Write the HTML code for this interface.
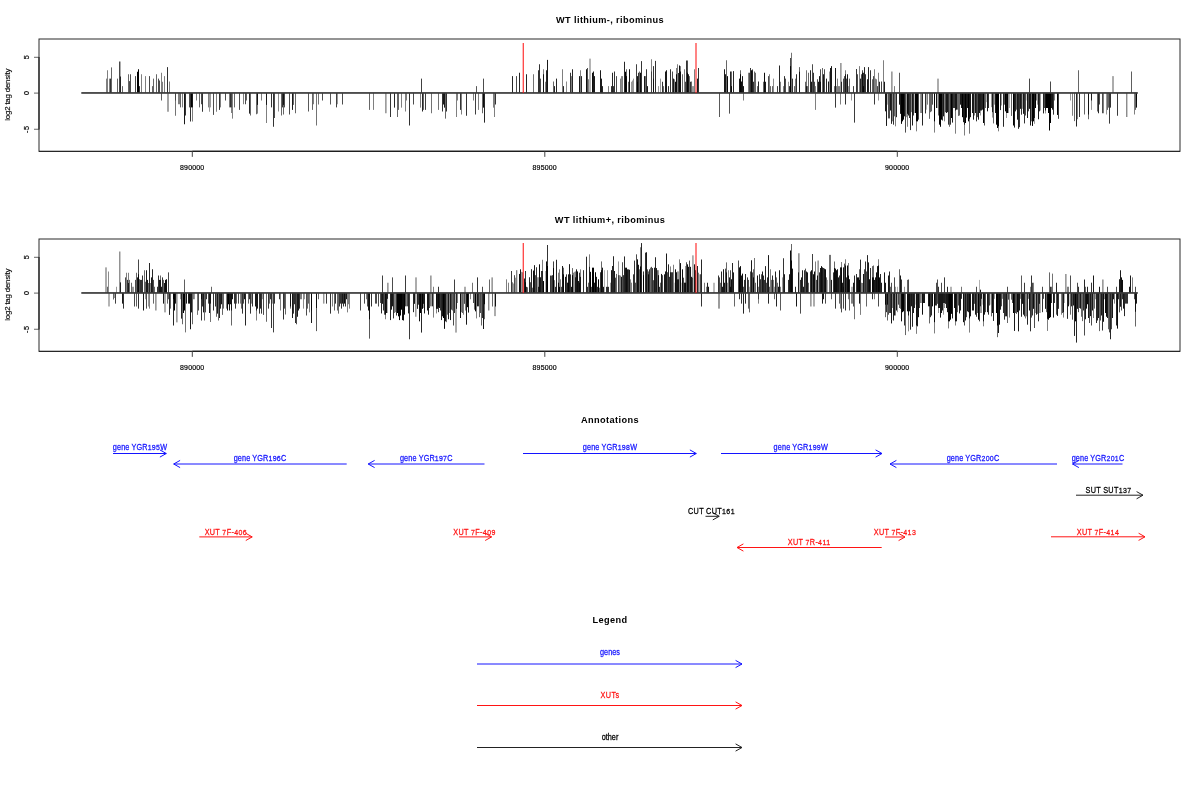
<!DOCTYPE html>
<html><head><meta charset="utf-8"><title>plot</title>
<style>html,body{margin:0;padding:0;background:#fff;}body{width:1200px;height:800px;overflow:hidden;font-family:"Liberation Sans",sans-serif;}svg{opacity:0.999;will-change:transform;}svg text{font-family:"Liberation Sans",sans-serif;}</style>
</head><body>
<svg width="1200" height="800" viewBox="0 0 1200 800" style="display:block" font-family='"Liberation Sans", sans-serif'>
<rect width="1200" height="800" fill="#fff"/>
<rect x="39" y="39" width="1141" height="112.35" fill="none" stroke="#2a2a2a" stroke-width="1"/>
<line x1="192.3" y1="151.35" x2="897.3" y2="151.35" stroke="#111" stroke-width="1.1"/>
<line x1="39" y1="151.35" x2="1180" y2="151.35" stroke="#222" stroke-width="1"/>
<line x1="39" y1="57.0" x2="39" y2="129.4" stroke="#222" stroke-width="1.2"/>
<line x1="34" y1="57.300000000000004" x2="39" y2="57.300000000000004" stroke="#333" stroke-width="0.75"/>
<text transform="translate(29.0,57.2) rotate(-90)" font-size="7.2" text-anchor="middle" fill="#000" stroke="#000" stroke-width="0.2" letter-spacing="0">5</text>
<line x1="34" y1="93.1" x2="39" y2="93.1" stroke="#333" stroke-width="0.75"/>
<text transform="translate(29.0,93.0) rotate(-90)" font-size="7.2" text-anchor="middle" fill="#000" stroke="#000" stroke-width="0.2" letter-spacing="0">0</text>
<line x1="34" y1="129.25" x2="39" y2="129.25" stroke="#333" stroke-width="0.75"/>
<text transform="translate(29.0,129.15) rotate(-90)" font-size="7.2" text-anchor="middle" fill="#000" stroke="#000" stroke-width="0.2" letter-spacing="0.7">-5</text>
<line x1="192.3" y1="151.35" x2="192.3" y2="156.85" stroke="#444" stroke-width="1"/>
<text transform="translate(192.20000000000002,169.75) scale(1,1.03)" font-size="7.0" fill="#000" stroke="#000" stroke-width="0.18" text-anchor="middle" font-weight="normal" letter-spacing="0.15">890000</text>
<line x1="544.8" y1="151.35" x2="544.8" y2="156.85" stroke="#444" stroke-width="1"/>
<text transform="translate(544.6999999999999,169.75) scale(1,1.03)" font-size="7.0" fill="#000" stroke="#000" stroke-width="0.18" text-anchor="middle" font-weight="normal" letter-spacing="0.15">895000</text>
<line x1="897.3" y1="151.35" x2="897.3" y2="156.85" stroke="#444" stroke-width="1"/>
<text transform="translate(897.1999999999999,169.75) scale(1,1.03)" font-size="7.0" fill="#000" stroke="#000" stroke-width="0.18" text-anchor="middle" font-weight="normal" letter-spacing="0.15">900000</text>
<text transform="translate(10.2,94.7) rotate(-90)" font-size="7.9" text-anchor="middle" fill="#000" stroke="#000" stroke-width="0.15" letter-spacing="-0.2">log2 tag density</text>
<text transform="translate(610,23) scale(1,1.075)" font-size="9.2" fill="#000" text-anchor="middle" font-weight="bold" letter-spacing="0.38">WT lithium-, ribominus</text>
<rect x="106.00" y="78.62" width="1.00" height="14.38" fill="#000" fill-opacity="0.50"/>
<rect x="107.00" y="70.25" width="1.00" height="22.75" fill="#000" fill-opacity="0.50"/>
<rect x="109.00" y="78.62" width="1.00" height="14.38" fill="#000" fill-opacity="0.50"/>
<rect x="110.00" y="78.62" width="1.00" height="14.38" fill="#000" fill-opacity="0.80"/>
<rect x="111.00" y="67.38" width="1.00" height="25.62" fill="#000" fill-opacity="0.60"/>
<rect x="117.00" y="78.62" width="1.00" height="14.38" fill="#000" fill-opacity="0.60"/>
<rect x="119.10" y="61.50" width="1.30" height="31.50" fill="#000" fill-opacity="0.80"/>
<rect x="120.00" y="76.50" width="1.00" height="16.50" fill="#000" fill-opacity="0.80"/>
<rect x="122.00" y="86.12" width="1.00" height="6.88" fill="#000" fill-opacity="0.60"/>
<rect x="128.00" y="74.25" width="1.00" height="18.75" fill="#000" fill-opacity="0.60"/>
<rect x="129.00" y="81.12" width="1.00" height="11.88" fill="#000" fill-opacity="0.70"/>
<rect x="130.00" y="74.25" width="1.00" height="18.75" fill="#000" fill-opacity="0.70"/>
<rect x="135.00" y="76.12" width="1.00" height="16.88" fill="#000" fill-opacity="0.70"/>
<rect x="137.00" y="71.75" width="1.00" height="21.25" fill="#000" fill-opacity="1.00"/>
<rect x="138.00" y="69.25" width="1.00" height="23.75" fill="#000" fill-opacity="1.00"/>
<rect x="139.00" y="86.12" width="1.00" height="6.88" fill="#000" fill-opacity="0.80"/>
<rect x="141.00" y="74.25" width="1.00" height="18.75" fill="#000" fill-opacity="0.50"/>
<rect x="145.00" y="76.12" width="1.00" height="16.88" fill="#000" fill-opacity="0.50"/>
<rect x="149.00" y="76.12" width="1.00" height="16.88" fill="#000" fill-opacity="0.72"/>
<rect x="152.00" y="86.12" width="1.00" height="6.88" fill="#000" fill-opacity="0.60"/>
<rect x="153.00" y="78.62" width="1.00" height="14.38" fill="#000" fill-opacity="0.60"/>
<rect x="156.00" y="74.25" width="1.00" height="18.75" fill="#000" fill-opacity="0.60"/>
<rect x="158.00" y="78.62" width="1.00" height="14.38" fill="#000" fill-opacity="0.70"/>
<rect x="159.00" y="80.50" width="1.00" height="12.50" fill="#000" fill-opacity="0.70"/>
<rect x="161.00" y="72.75" width="1.00" height="20.25" fill="#000" fill-opacity="0.50"/>
<rect x="162.00" y="81.75" width="1.00" height="11.25" fill="#000" fill-opacity="0.50"/>
<rect x="164.00" y="76.12" width="1.00" height="16.88" fill="#000" fill-opacity="0.50"/>
<rect x="167.00" y="67.12" width="1.00" height="25.88" fill="#000" fill-opacity="0.81"/>
<rect x="169.00" y="81.50" width="1.00" height="11.50" fill="#000" fill-opacity="0.50"/>
<rect x="161.00" y="93.00" width="1.00" height="7.50" fill="#000" fill-opacity="0.63"/>
<rect x="167.30" y="93.00" width="1.40" height="18.75" fill="#000" fill-opacity="0.50"/>
<rect x="175.00" y="93.00" width="1.00" height="22.75" fill="#000" fill-opacity="0.55"/>
<rect x="175.00" y="93.00" width="1.00" height="7.50" fill="#000" fill-opacity="0.40"/>
<rect x="178.00" y="93.00" width="1.00" height="11.25" fill="#000" fill-opacity="0.50"/>
<rect x="179.00" y="93.00" width="1.00" height="11.25" fill="#000" fill-opacity="0.50"/>
<rect x="180.00" y="93.00" width="1.00" height="14.38" fill="#000" fill-opacity="0.60"/>
<rect x="182.00" y="93.00" width="1.00" height="14.38" fill="#000" fill-opacity="0.50"/>
<rect x="184.00" y="93.00" width="1.00" height="31.25" fill="#000" fill-opacity="0.90"/>
<rect x="185.00" y="93.00" width="1.00" height="22.50" fill="#000" fill-opacity="0.80"/>
<rect x="189.00" y="93.00" width="1.00" height="14.38" fill="#000" fill-opacity="0.70"/>
<rect x="190.00" y="93.00" width="1.00" height="28.50" fill="#000" fill-opacity="0.80"/>
<rect x="191.00" y="93.00" width="1.00" height="14.38" fill="#000" fill-opacity="1.00"/>
<rect x="192.00" y="93.00" width="1.00" height="28.50" fill="#000" fill-opacity="0.50"/>
<rect x="192.00" y="93.00" width="1.00" height="14.38" fill="#000" fill-opacity="0.80"/>
<rect x="196.00" y="93.00" width="1.00" height="7.50" fill="#000" fill-opacity="0.50"/>
<rect x="199.00" y="93.00" width="1.00" height="14.38" fill="#000" fill-opacity="0.60"/>
<rect x="201.00" y="93.00" width="1.00" height="11.25" fill="#000" fill-opacity="0.70"/>
<rect x="202.00" y="93.00" width="1.00" height="18.75" fill="#000" fill-opacity="0.80"/>
<rect x="208.00" y="93.00" width="1.00" height="14.38" fill="#000" fill-opacity="0.50"/>
<rect x="209.00" y="93.00" width="1.00" height="18.75" fill="#000" fill-opacity="0.40"/>
<rect x="210.00" y="93.00" width="1.00" height="14.38" fill="#000" fill-opacity="0.40"/>
<rect x="213.00" y="93.00" width="1.00" height="21.88" fill="#000" fill-opacity="0.70"/>
<rect x="216.00" y="93.00" width="1.00" height="18.75" fill="#000" fill-opacity="0.50"/>
<rect x="219.00" y="93.00" width="1.00" height="16.88" fill="#000" fill-opacity="0.80"/>
<rect x="220.00" y="93.00" width="1.00" height="14.38" fill="#000" fill-opacity="0.50"/>
<rect x="225.00" y="93.00" width="1.00" height="7.50" fill="#000" fill-opacity="0.70"/>
<rect x="229.00" y="93.00" width="1.00" height="14.38" fill="#000" fill-opacity="0.50"/>
<rect x="229.95" y="93.00" width="1.60" height="14.38" fill="#000" fill-opacity="0.80"/>
<rect x="231.00" y="93.00" width="1.00" height="20.00" fill="#000" fill-opacity="0.50"/>
<rect x="232.00" y="93.00" width="1.00" height="25.62" fill="#000" fill-opacity="0.50"/>
<rect x="234.00" y="93.00" width="1.00" height="14.38" fill="#000" fill-opacity="0.60"/>
<rect x="239.00" y="93.00" width="1.00" height="16.88" fill="#000" fill-opacity="0.70"/>
<rect x="243.00" y="93.00" width="1.00" height="11.25" fill="#000" fill-opacity="0.50"/>
<rect x="245.00" y="93.00" width="1.00" height="11.25" fill="#000" fill-opacity="0.70"/>
<rect x="246.00" y="93.00" width="1.00" height="7.50" fill="#000" fill-opacity="0.60"/>
<rect x="249.00" y="93.00" width="1.00" height="20.62" fill="#000" fill-opacity="0.85"/>
<rect x="250.00" y="93.00" width="1.00" height="22.50" fill="#000" fill-opacity="0.60"/>
<rect x="256.00" y="93.00" width="1.00" height="21.25" fill="#000" fill-opacity="0.60"/>
<rect x="257.00" y="93.00" width="1.00" height="11.88" fill="#000" fill-opacity="0.85"/>
<rect x="257.00" y="93.00" width="1.00" height="20.62" fill="#000" fill-opacity="0.50"/>
<rect x="261.00" y="93.00" width="1.00" height="7.50" fill="#000" fill-opacity="0.50"/>
<rect x="266.00" y="93.00" width="1.00" height="11.88" fill="#000" fill-opacity="0.80"/>
<rect x="266.00" y="93.00" width="1.00" height="30.00" fill="#000" fill-opacity="0.50"/>
<rect x="271.00" y="93.00" width="1.00" height="14.38" fill="#000" fill-opacity="0.80"/>
<rect x="273.00" y="93.00" width="1.00" height="33.75" fill="#000" fill-opacity="0.80"/>
<rect x="274.00" y="93.00" width="1.00" height="25.00" fill="#000" fill-opacity="0.70"/>
<rect x="278.00" y="93.00" width="1.00" height="18.50" fill="#000" fill-opacity="0.45"/>
<rect x="281.00" y="93.00" width="1.00" height="22.50" fill="#000" fill-opacity="0.60"/>
<rect x="282.00" y="93.00" width="1.00" height="14.38" fill="#000" fill-opacity="0.80"/>
<rect x="283.00" y="93.00" width="1.00" height="11.88" fill="#000" fill-opacity="0.80"/>
<rect x="283.00" y="93.00" width="1.00" height="21.50" fill="#000" fill-opacity="0.60"/>
<rect x="284.00" y="93.00" width="1.00" height="14.38" fill="#000" fill-opacity="0.70"/>
<rect x="289.00" y="93.00" width="1.00" height="21.50" fill="#000" fill-opacity="0.70"/>
<rect x="292.00" y="93.00" width="1.00" height="16.88" fill="#000" fill-opacity="0.90"/>
<rect x="293.00" y="93.00" width="1.00" height="11.88" fill="#000" fill-opacity="0.60"/>
<rect x="295.00" y="93.00" width="1.00" height="20.25" fill="#000" fill-opacity="0.60"/>
<rect x="308.00" y="93.00" width="1.00" height="18.50" fill="#000" fill-opacity="0.65"/>
<rect x="312.00" y="93.00" width="1.00" height="16.88" fill="#000" fill-opacity="0.60"/>
<rect x="313.00" y="93.00" width="1.00" height="11.25" fill="#000" fill-opacity="0.50"/>
<rect x="316.00" y="93.00" width="1.00" height="32.50" fill="#000" fill-opacity="0.55"/>
<rect x="318.00" y="93.00" width="1.00" height="11.50" fill="#000" fill-opacity="0.55"/>
<rect x="322.00" y="93.00" width="1.00" height="7.50" fill="#000" fill-opacity="0.70"/>
<rect x="330.00" y="93.00" width="1.00" height="11.50" fill="#000" fill-opacity="0.65"/>
<rect x="336.00" y="93.00" width="1.00" height="14.38" fill="#000" fill-opacity="0.75"/>
<rect x="337.00" y="93.00" width="1.00" height="11.25" fill="#000" fill-opacity="0.40"/>
<rect x="342.00" y="93.00" width="1.00" height="11.50" fill="#000" fill-opacity="0.70"/>
<rect x="369.00" y="93.00" width="1.00" height="16.88" fill="#000" fill-opacity="0.60"/>
<rect x="373.00" y="93.00" width="1.00" height="16.88" fill="#000" fill-opacity="0.50"/>
<rect x="421.00" y="78.62" width="1.00" height="14.38" fill="#000" fill-opacity="0.75"/>
<rect x="476.00" y="86.12" width="1.00" height="6.88" fill="#000" fill-opacity="0.65"/>
<rect x="483.00" y="78.62" width="1.00" height="14.38" fill="#000" fill-opacity="0.70"/>
<rect x="512.00" y="76.12" width="1.00" height="16.88" fill="#000" fill-opacity="0.85"/>
<rect x="516.00" y="76.12" width="1.00" height="16.88" fill="#000" fill-opacity="0.70"/>
<rect x="519.00" y="72.75" width="1.00" height="20.25" fill="#000" fill-opacity="0.85"/>
<rect x="526.00" y="74.25" width="1.00" height="18.75" fill="#000" fill-opacity="0.85"/>
<rect x="385.23" y="93.00" width="1.30" height="20.25" fill="#000" fill-opacity="0.50"/>
<rect x="390.00" y="93.00" width="1.00" height="24.00" fill="#000" fill-opacity="0.80"/>
<rect x="394.00" y="93.00" width="1.00" height="14.62" fill="#000" fill-opacity="0.85"/>
<rect x="397.00" y="93.00" width="1.00" height="24.00" fill="#000" fill-opacity="0.60"/>
<rect x="398.00" y="93.00" width="1.00" height="16.88" fill="#000" fill-opacity="0.60"/>
<rect x="401.00" y="93.00" width="1.00" height="14.62" fill="#000" fill-opacity="0.50"/>
<rect x="405.00" y="93.00" width="1.00" height="18.50" fill="#000" fill-opacity="0.50"/>
<rect x="406.00" y="93.00" width="1.00" height="7.50" fill="#000" fill-opacity="0.50"/>
<rect x="409.00" y="93.00" width="1.00" height="32.50" fill="#000" fill-opacity="0.81"/>
<rect x="413.00" y="93.00" width="1.00" height="11.50" fill="#000" fill-opacity="0.70"/>
<rect x="420.00" y="93.00" width="1.00" height="14.62" fill="#000" fill-opacity="0.50"/>
<rect x="422.00" y="93.00" width="1.00" height="18.50" fill="#000" fill-opacity="0.85"/>
<rect x="423.00" y="93.00" width="1.00" height="16.88" fill="#000" fill-opacity="0.60"/>
<rect x="425.00" y="93.00" width="1.00" height="16.88" fill="#000" fill-opacity="0.75"/>
<rect x="431.00" y="93.00" width="1.00" height="20.25" fill="#000" fill-opacity="0.55"/>
<rect x="438.00" y="93.00" width="1.00" height="16.88" fill="#000" fill-opacity="0.55"/>
<rect x="442.00" y="93.00" width="1.00" height="18.50" fill="#000" fill-opacity="0.80"/>
<rect x="443.00" y="93.00" width="1.00" height="11.50" fill="#000" fill-opacity="0.90"/>
<rect x="444.00" y="93.00" width="1.00" height="14.62" fill="#000" fill-opacity="0.90"/>
<rect x="445.00" y="93.00" width="1.00" height="25.62" fill="#000" fill-opacity="0.60"/>
<rect x="446.00" y="93.00" width="1.00" height="18.50" fill="#000" fill-opacity="0.80"/>
<rect x="456.00" y="93.00" width="1.00" height="24.00" fill="#000" fill-opacity="0.50"/>
<rect x="457.00" y="93.00" width="1.00" height="7.50" fill="#000" fill-opacity="0.50"/>
<rect x="460.00" y="93.00" width="1.00" height="16.88" fill="#000" fill-opacity="0.80"/>
<rect x="461.00" y="93.00" width="1.00" height="21.50" fill="#000" fill-opacity="0.50"/>
<rect x="466.00" y="93.00" width="1.00" height="22.75" fill="#000" fill-opacity="0.80"/>
<rect x="473.00" y="93.00" width="1.00" height="7.50" fill="#000" fill-opacity="0.50"/>
<rect x="475.00" y="93.00" width="1.00" height="21.50" fill="#000" fill-opacity="0.75"/>
<rect x="478.00" y="93.00" width="1.00" height="16.88" fill="#000" fill-opacity="0.50"/>
<rect x="482.00" y="93.00" width="1.00" height="20.25" fill="#000" fill-opacity="0.60"/>
<rect x="483.00" y="93.00" width="1.00" height="14.62" fill="#000" fill-opacity="0.95"/>
<rect x="484.00" y="93.00" width="1.00" height="29.62" fill="#000" fill-opacity="0.85"/>
<rect x="493.00" y="93.00" width="1.00" height="14.62" fill="#000" fill-opacity="0.50"/>
<rect x="494.00" y="93.00" width="1.00" height="24.00" fill="#000" fill-opacity="0.50"/>
<rect x="495.00" y="93.00" width="1.00" height="11.50" fill="#000" fill-opacity="0.80"/>
<rect x="533.00" y="74.25" width="1.00" height="18.75" fill="#000" fill-opacity="0.55"/>
<rect x="538.00" y="70.25" width="1.00" height="22.75" fill="#000" fill-opacity="0.80"/>
<rect x="539.00" y="64.25" width="1.00" height="28.75" fill="#000" fill-opacity="0.80"/>
<rect x="540.00" y="78.62" width="1.00" height="14.38" fill="#000" fill-opacity="0.70"/>
<rect x="543.00" y="69.25" width="1.00" height="23.75" fill="#000" fill-opacity="0.50"/>
<rect x="543.00" y="74.25" width="1.00" height="18.75" fill="#000" fill-opacity="0.85"/>
<rect x="545.00" y="81.75" width="1.00" height="11.25" fill="#000" fill-opacity="0.50"/>
<rect x="546.00" y="70.25" width="1.00" height="22.75" fill="#000" fill-opacity="0.85"/>
<rect x="547.00" y="59.88" width="1.00" height="33.12" fill="#000" fill-opacity="0.90"/>
<rect x="553.00" y="81.50" width="1.00" height="11.50" fill="#000" fill-opacity="0.60"/>
<rect x="554.00" y="86.12" width="1.00" height="6.88" fill="#000" fill-opacity="0.85"/>
<rect x="556.00" y="78.62" width="1.00" height="14.38" fill="#000" fill-opacity="0.85"/>
<rect x="562.00" y="69.25" width="1.00" height="23.75" fill="#000" fill-opacity="0.50"/>
<rect x="563.00" y="86.12" width="1.00" height="6.88" fill="#000" fill-opacity="0.85"/>
<rect x="566.00" y="81.50" width="1.00" height="11.50" fill="#000" fill-opacity="0.45"/>
<rect x="570.00" y="72.75" width="1.00" height="20.25" fill="#000" fill-opacity="0.80"/>
<rect x="571.00" y="76.12" width="1.00" height="16.88" fill="#000" fill-opacity="0.50"/>
<rect x="572.00" y="69.25" width="1.00" height="23.75" fill="#000" fill-opacity="0.85"/>
<rect x="579.00" y="76.12" width="1.00" height="16.88" fill="#000" fill-opacity="0.90"/>
<rect x="580.00" y="70.25" width="1.00" height="22.75" fill="#000" fill-opacity="0.50"/>
<rect x="581.00" y="76.12" width="1.00" height="16.88" fill="#000" fill-opacity="0.85"/>
<rect x="586.00" y="69.25" width="1.00" height="23.75" fill="#000" fill-opacity="0.95"/>
<rect x="587.00" y="68.00" width="1.00" height="25.00" fill="#000" fill-opacity="0.70"/>
<rect x="588.00" y="79.25" width="1.00" height="13.75" fill="#000" fill-opacity="0.50"/>
<rect x="589.35" y="58.62" width="1.30" height="34.38" fill="#000" fill-opacity="0.45"/>
<rect x="592.00" y="72.75" width="1.00" height="20.25" fill="#000" fill-opacity="0.95"/>
<rect x="593.00" y="71.50" width="1.00" height="21.50" fill="#000" fill-opacity="0.90"/>
<rect x="594.00" y="76.12" width="1.00" height="16.88" fill="#000" fill-opacity="0.90"/>
<rect x="600.00" y="70.25" width="1.00" height="22.75" fill="#000" fill-opacity="0.90"/>
<rect x="601.00" y="78.62" width="1.00" height="14.38" fill="#000" fill-opacity="0.90"/>
<rect x="602.00" y="86.12" width="1.00" height="6.88" fill="#000" fill-opacity="0.85"/>
<rect x="608.00" y="86.12" width="1.00" height="6.88" fill="#000" fill-opacity="0.50"/>
<rect x="611.00" y="86.12" width="1.00" height="6.88" fill="#000" fill-opacity="0.80"/>
<rect x="612.00" y="72.75" width="1.00" height="20.25" fill="#000" fill-opacity="0.85"/>
<rect x="613.00" y="86.12" width="1.00" height="6.88" fill="#000" fill-opacity="0.80"/>
<rect x="614.00" y="71.50" width="1.00" height="21.50" fill="#000" fill-opacity="0.80"/>
<rect x="616.00" y="76.12" width="1.00" height="16.88" fill="#000" fill-opacity="0.70"/>
<rect x="620.00" y="78.62" width="1.00" height="14.38" fill="#000" fill-opacity="0.50"/>
<rect x="621.00" y="76.12" width="1.00" height="16.88" fill="#000" fill-opacity="0.45"/>
<rect x="622.00" y="76.12" width="1.00" height="16.88" fill="#000" fill-opacity="0.50"/>
<rect x="624.00" y="61.75" width="1.00" height="31.25" fill="#000" fill-opacity="0.85"/>
<rect x="625.00" y="71.75" width="1.00" height="21.25" fill="#000" fill-opacity="1.00"/>
<rect x="626.00" y="69.25" width="1.00" height="23.75" fill="#000" fill-opacity="0.60"/>
<rect x="626.00" y="76.12" width="1.00" height="16.88" fill="#000" fill-opacity="0.90"/>
<rect x="628.00" y="81.75" width="1.00" height="11.25" fill="#000" fill-opacity="0.60"/>
<rect x="629.00" y="69.25" width="1.00" height="23.75" fill="#000" fill-opacity="0.95"/>
<rect x="631.00" y="81.75" width="1.00" height="11.25" fill="#000" fill-opacity="0.40"/>
<rect x="632.00" y="80.50" width="1.00" height="12.50" fill="#000" fill-opacity="0.40"/>
<rect x="633.00" y="78.62" width="1.00" height="14.38" fill="#000" fill-opacity="0.40"/>
<rect x="636.00" y="64.25" width="1.00" height="28.75" fill="#000" fill-opacity="0.75"/>
<rect x="637.00" y="76.12" width="1.00" height="16.88" fill="#000" fill-opacity="0.90"/>
<rect x="637.00" y="81.75" width="1.00" height="11.25" fill="#000" fill-opacity="0.90"/>
<rect x="638.00" y="72.75" width="1.00" height="20.25" fill="#000" fill-opacity="0.80"/>
<rect x="639.00" y="71.50" width="1.00" height="21.50" fill="#000" fill-opacity="0.60"/>
<rect x="640.00" y="72.75" width="1.00" height="20.25" fill="#000" fill-opacity="0.95"/>
<rect x="641.00" y="61.12" width="1.00" height="31.88" fill="#000" fill-opacity="0.80"/>
<rect x="644.00" y="76.12" width="1.00" height="16.88" fill="#000" fill-opacity="0.90"/>
<rect x="645.00" y="76.12" width="1.00" height="16.88" fill="#000" fill-opacity="0.60"/>
<rect x="646.00" y="69.25" width="1.00" height="23.75" fill="#000" fill-opacity="0.80"/>
<rect x="647.00" y="86.12" width="1.00" height="6.88" fill="#000" fill-opacity="0.90"/>
<rect x="651.00" y="71.50" width="1.00" height="21.50" fill="#000" fill-opacity="0.50"/>
<rect x="651.00" y="59.25" width="1.00" height="33.75" fill="#000" fill-opacity="0.50"/>
<rect x="653.00" y="66.12" width="1.00" height="26.88" fill="#000" fill-opacity="0.80"/>
<rect x="653.00" y="78.62" width="1.00" height="14.38" fill="#000" fill-opacity="0.70"/>
<rect x="655.00" y="60.88" width="1.00" height="32.12" fill="#000" fill-opacity="0.80"/>
<rect x="658.00" y="86.12" width="1.00" height="6.88" fill="#000" fill-opacity="0.40"/>
<rect x="660.00" y="78.62" width="1.00" height="14.38" fill="#000" fill-opacity="0.40"/>
<rect x="662.00" y="81.75" width="1.00" height="11.25" fill="#000" fill-opacity="0.80"/>
<rect x="663.00" y="86.12" width="1.00" height="6.88" fill="#000" fill-opacity="0.60"/>
<rect x="665.00" y="71.50" width="1.00" height="21.50" fill="#000" fill-opacity="0.90"/>
<rect x="666.00" y="70.25" width="1.00" height="22.75" fill="#000" fill-opacity="0.90"/>
<rect x="668.00" y="86.12" width="1.00" height="6.88" fill="#000" fill-opacity="0.80"/>
<rect x="670.00" y="69.25" width="1.00" height="23.75" fill="#000" fill-opacity="0.80"/>
<rect x="672.00" y="71.50" width="1.00" height="21.50" fill="#000" fill-opacity="0.70"/>
<rect x="673.00" y="78.62" width="1.00" height="14.38" fill="#000" fill-opacity="0.90"/>
<rect x="674.00" y="79.25" width="1.00" height="13.75" fill="#000" fill-opacity="0.50"/>
<rect x="675.00" y="81.75" width="1.00" height="11.25" fill="#000" fill-opacity="0.95"/>
<rect x="676.00" y="68.00" width="1.00" height="25.00" fill="#000" fill-opacity="0.50"/>
<rect x="676.00" y="74.25" width="1.00" height="18.75" fill="#000" fill-opacity="0.90"/>
<rect x="677.00" y="64.25" width="1.00" height="28.75" fill="#000" fill-opacity="0.50"/>
<rect x="678.00" y="73.00" width="1.00" height="20.00" fill="#000" fill-opacity="0.80"/>
<rect x="679.00" y="65.50" width="1.00" height="27.50" fill="#000" fill-opacity="0.95"/>
<rect x="680.00" y="66.12" width="1.00" height="26.88" fill="#000" fill-opacity="0.50"/>
<rect x="680.00" y="71.50" width="1.00" height="21.50" fill="#000" fill-opacity="0.90"/>
<rect x="682.00" y="74.25" width="1.00" height="18.75" fill="#000" fill-opacity="0.60"/>
<rect x="684.00" y="69.25" width="1.00" height="23.75" fill="#000" fill-opacity="0.50"/>
<rect x="685.00" y="81.75" width="1.00" height="11.25" fill="#000" fill-opacity="0.70"/>
<rect x="686.00" y="60.50" width="1.00" height="32.50" fill="#000" fill-opacity="0.80"/>
<rect x="687.00" y="60.50" width="1.00" height="32.50" fill="#000" fill-opacity="0.70"/>
<rect x="687.00" y="72.75" width="1.00" height="20.25" fill="#000" fill-opacity="0.95"/>
<rect x="688.00" y="74.25" width="1.00" height="18.75" fill="#000" fill-opacity="0.90"/>
<rect x="689.00" y="76.12" width="1.00" height="16.88" fill="#000" fill-opacity="0.60"/>
<rect x="690.00" y="81.75" width="1.00" height="11.25" fill="#000" fill-opacity="0.80"/>
<rect x="691.00" y="81.50" width="1.00" height="11.50" fill="#000" fill-opacity="0.60"/>
<rect x="692.00" y="86.12" width="1.00" height="6.88" fill="#000" fill-opacity="0.40"/>
<rect x="693.00" y="86.12" width="1.00" height="6.88" fill="#000" fill-opacity="0.40"/>
<rect x="694.00" y="69.25" width="1.00" height="23.75" fill="#000" fill-opacity="0.50"/>
<rect x="697.00" y="78.62" width="1.00" height="14.38" fill="#000" fill-opacity="0.90"/>
<rect x="698.00" y="68.00" width="1.00" height="25.00" fill="#000" fill-opacity="0.80"/>
<rect x="724.00" y="69.25" width="1.00" height="23.75" fill="#000" fill-opacity="0.90"/>
<rect x="725.00" y="74.25" width="1.00" height="18.75" fill="#000" fill-opacity="0.90"/>
<rect x="726.00" y="60.25" width="1.00" height="32.75" fill="#000" fill-opacity="0.60"/>
<rect x="727.00" y="76.12" width="1.00" height="16.88" fill="#000" fill-opacity="0.90"/>
<rect x="727.00" y="76.75" width="1.00" height="16.25" fill="#000" fill-opacity="0.60"/>
<rect x="730.00" y="71.50" width="1.00" height="21.50" fill="#000" fill-opacity="0.85"/>
<rect x="731.00" y="71.50" width="1.00" height="21.50" fill="#000" fill-opacity="0.60"/>
<rect x="731.00" y="86.12" width="1.00" height="6.88" fill="#000" fill-opacity="0.90"/>
<rect x="733.00" y="71.12" width="1.00" height="21.88" fill="#000" fill-opacity="0.85"/>
<rect x="739.00" y="78.62" width="1.00" height="14.38" fill="#000" fill-opacity="0.90"/>
<rect x="740.00" y="70.25" width="1.00" height="22.75" fill="#000" fill-opacity="0.60"/>
<rect x="740.00" y="74.25" width="1.00" height="18.75" fill="#000" fill-opacity="0.95"/>
<rect x="741.00" y="81.50" width="1.00" height="11.50" fill="#000" fill-opacity="0.95"/>
<rect x="742.00" y="76.12" width="1.00" height="16.88" fill="#000" fill-opacity="0.90"/>
<rect x="743.00" y="86.12" width="1.00" height="6.88" fill="#000" fill-opacity="0.90"/>
<rect x="748.00" y="72.75" width="1.00" height="20.25" fill="#000" fill-opacity="0.50"/>
<rect x="749.00" y="72.75" width="1.00" height="20.25" fill="#000" fill-opacity="0.70"/>
<rect x="750.00" y="68.00" width="1.00" height="25.00" fill="#000" fill-opacity="0.80"/>
<rect x="751.00" y="70.25" width="1.00" height="22.75" fill="#000" fill-opacity="0.95"/>
<rect x="752.00" y="70.25" width="1.00" height="22.75" fill="#000" fill-opacity="0.70"/>
<rect x="752.00" y="69.25" width="1.00" height="23.75" fill="#000" fill-opacity="0.60"/>
<rect x="753.00" y="81.75" width="1.00" height="11.25" fill="#000" fill-opacity="0.80"/>
<rect x="754.00" y="71.50" width="1.00" height="21.50" fill="#000" fill-opacity="0.60"/>
<rect x="755.00" y="72.75" width="1.00" height="20.25" fill="#000" fill-opacity="0.60"/>
<rect x="757.00" y="86.12" width="1.00" height="6.88" fill="#000" fill-opacity="0.60"/>
<rect x="758.00" y="81.50" width="1.00" height="11.50" fill="#000" fill-opacity="0.85"/>
<rect x="763.00" y="81.75" width="1.00" height="11.25" fill="#000" fill-opacity="0.60"/>
<rect x="764.00" y="72.75" width="1.00" height="20.25" fill="#000" fill-opacity="0.95"/>
<rect x="765.00" y="81.75" width="1.00" height="11.25" fill="#000" fill-opacity="0.90"/>
<rect x="768.00" y="76.12" width="1.00" height="16.88" fill="#000" fill-opacity="0.70"/>
<rect x="769.00" y="74.25" width="1.00" height="18.75" fill="#000" fill-opacity="0.50"/>
<rect x="770.00" y="86.12" width="1.00" height="6.88" fill="#000" fill-opacity="0.60"/>
<rect x="772.00" y="86.12" width="1.00" height="6.88" fill="#000" fill-opacity="0.60"/>
<rect x="773.00" y="78.62" width="1.00" height="14.38" fill="#000" fill-opacity="0.45"/>
<rect x="777.00" y="86.12" width="1.00" height="6.88" fill="#000" fill-opacity="0.75"/>
<rect x="779.00" y="65.50" width="1.00" height="27.50" fill="#000" fill-opacity="0.85"/>
<rect x="780.00" y="81.75" width="1.00" height="11.25" fill="#000" fill-opacity="0.50"/>
<rect x="783.00" y="86.12" width="1.00" height="6.88" fill="#000" fill-opacity="0.50"/>
<rect x="784.00" y="76.12" width="1.00" height="16.88" fill="#000" fill-opacity="0.80"/>
<rect x="785.00" y="78.62" width="1.00" height="14.38" fill="#000" fill-opacity="0.70"/>
<rect x="788.00" y="81.75" width="1.00" height="11.25" fill="#000" fill-opacity="0.40"/>
<rect x="789.00" y="86.12" width="1.00" height="6.88" fill="#000" fill-opacity="0.80"/>
<rect x="790.00" y="58.00" width="1.00" height="35.00" fill="#000" fill-opacity="0.70"/>
<rect x="790.00" y="66.12" width="1.00" height="26.88" fill="#000" fill-opacity="0.95"/>
<rect x="791.00" y="52.75" width="1.00" height="40.25" fill="#000" fill-opacity="0.55"/>
<rect x="792.00" y="78.62" width="1.00" height="14.38" fill="#000" fill-opacity="0.80"/>
<rect x="794.00" y="86.12" width="1.00" height="6.88" fill="#000" fill-opacity="0.60"/>
<rect x="795.00" y="78.62" width="1.00" height="14.38" fill="#000" fill-opacity="0.50"/>
<rect x="796.00" y="74.25" width="1.00" height="18.75" fill="#000" fill-opacity="0.80"/>
<rect x="799.00" y="67.12" width="1.00" height="25.88" fill="#000" fill-opacity="0.60"/>
<rect x="799.00" y="71.75" width="1.00" height="21.25" fill="#000" fill-opacity="0.80"/>
<rect x="805.00" y="81.75" width="1.00" height="11.25" fill="#000" fill-opacity="0.60"/>
<rect x="806.00" y="70.25" width="1.00" height="22.75" fill="#000" fill-opacity="0.55"/>
<rect x="806.00" y="86.12" width="1.00" height="6.88" fill="#000" fill-opacity="0.80"/>
<rect x="807.00" y="86.12" width="1.00" height="6.88" fill="#000" fill-opacity="0.60"/>
<rect x="808.00" y="72.75" width="1.00" height="20.25" fill="#000" fill-opacity="0.60"/>
<rect x="810.00" y="70.25" width="1.00" height="22.75" fill="#000" fill-opacity="0.85"/>
<rect x="811.00" y="81.75" width="1.00" height="11.25" fill="#000" fill-opacity="0.90"/>
<rect x="812.00" y="64.25" width="1.00" height="28.75" fill="#000" fill-opacity="0.70"/>
<rect x="813.00" y="72.75" width="1.00" height="20.25" fill="#000" fill-opacity="0.80"/>
<rect x="814.00" y="81.75" width="1.00" height="11.25" fill="#000" fill-opacity="0.70"/>
<rect x="815.00" y="86.12" width="1.00" height="6.88" fill="#000" fill-opacity="0.50"/>
<rect x="817.00" y="79.25" width="1.00" height="13.75" fill="#000" fill-opacity="0.70"/>
<rect x="818.00" y="81.75" width="1.00" height="11.25" fill="#000" fill-opacity="0.90"/>
<rect x="819.00" y="76.12" width="1.00" height="16.88" fill="#000" fill-opacity="0.90"/>
<rect x="820.00" y="69.25" width="1.00" height="23.75" fill="#000" fill-opacity="0.70"/>
<rect x="820.00" y="81.75" width="1.00" height="11.25" fill="#000" fill-opacity="0.80"/>
<rect x="822.00" y="68.00" width="1.00" height="25.00" fill="#000" fill-opacity="0.60"/>
<rect x="823.00" y="74.25" width="1.00" height="18.75" fill="#000" fill-opacity="0.90"/>
<rect x="824.00" y="69.25" width="1.00" height="23.75" fill="#000" fill-opacity="0.70"/>
<rect x="826.00" y="78.62" width="1.00" height="14.38" fill="#000" fill-opacity="0.85"/>
<rect x="828.00" y="81.50" width="1.00" height="11.50" fill="#000" fill-opacity="0.90"/>
<rect x="829.00" y="71.50" width="1.00" height="21.50" fill="#000" fill-opacity="0.40"/>
<rect x="719.00" y="93.00" width="1.00" height="24.00" fill="#000" fill-opacity="0.65"/>
<rect x="729.00" y="93.00" width="1.00" height="20.62" fill="#000" fill-opacity="0.68"/>
<rect x="743.00" y="93.00" width="1.00" height="7.50" fill="#000" fill-opacity="0.50"/>
<rect x="815.00" y="93.00" width="1.00" height="16.88" fill="#000" fill-opacity="0.50"/>
<rect x="830.00" y="68.00" width="1.00" height="25.00" fill="#000" fill-opacity="0.90"/>
<rect x="831.00" y="66.12" width="1.00" height="26.88" fill="#000" fill-opacity="0.90"/>
<rect x="834.00" y="86.12" width="1.00" height="6.88" fill="#000" fill-opacity="0.60"/>
<rect x="835.00" y="68.00" width="1.00" height="25.00" fill="#000" fill-opacity="0.90"/>
<rect x="836.00" y="86.12" width="1.00" height="6.88" fill="#000" fill-opacity="0.50"/>
<rect x="837.00" y="78.62" width="1.00" height="14.38" fill="#000" fill-opacity="0.50"/>
<rect x="838.00" y="86.12" width="1.00" height="6.88" fill="#000" fill-opacity="0.50"/>
<rect x="839.00" y="86.12" width="1.00" height="6.88" fill="#000" fill-opacity="0.50"/>
<rect x="840.23" y="63.00" width="1.30" height="30.00" fill="#000" fill-opacity="0.50"/>
<rect x="841.00" y="81.75" width="1.00" height="11.25" fill="#000" fill-opacity="0.80"/>
<rect x="843.00" y="78.62" width="1.00" height="14.38" fill="#000" fill-opacity="0.70"/>
<rect x="844.00" y="76.12" width="1.00" height="16.88" fill="#000" fill-opacity="0.70"/>
<rect x="845.00" y="70.25" width="1.00" height="22.75" fill="#000" fill-opacity="0.50"/>
<rect x="845.00" y="74.25" width="1.00" height="18.75" fill="#000" fill-opacity="0.80"/>
<rect x="846.00" y="78.62" width="1.00" height="14.38" fill="#000" fill-opacity="0.70"/>
<rect x="847.00" y="74.25" width="1.00" height="18.75" fill="#000" fill-opacity="0.90"/>
<rect x="848.00" y="86.12" width="1.00" height="6.88" fill="#000" fill-opacity="0.40"/>
<rect x="849.00" y="78.62" width="1.00" height="14.38" fill="#000" fill-opacity="0.60"/>
<rect x="853.00" y="86.12" width="1.00" height="6.88" fill="#000" fill-opacity="0.75"/>
<rect x="856.00" y="69.00" width="1.00" height="24.00" fill="#000" fill-opacity="0.80"/>
<rect x="857.00" y="74.25" width="1.00" height="18.75" fill="#000" fill-opacity="0.70"/>
<rect x="859.00" y="66.12" width="1.00" height="26.88" fill="#000" fill-opacity="0.50"/>
<rect x="860.00" y="78.62" width="1.00" height="14.38" fill="#000" fill-opacity="0.85"/>
<rect x="861.00" y="74.25" width="1.00" height="18.75" fill="#000" fill-opacity="0.70"/>
<rect x="862.00" y="72.75" width="1.00" height="20.25" fill="#000" fill-opacity="0.80"/>
<rect x="862.00" y="70.25" width="1.00" height="22.75" fill="#000" fill-opacity="0.70"/>
<rect x="863.00" y="86.12" width="1.00" height="6.88" fill="#000" fill-opacity="0.90"/>
<rect x="863.00" y="72.75" width="1.00" height="20.25" fill="#000" fill-opacity="0.80"/>
<rect x="864.00" y="67.12" width="1.00" height="25.88" fill="#000" fill-opacity="0.85"/>
<rect x="865.00" y="74.25" width="1.00" height="18.75" fill="#000" fill-opacity="0.80"/>
<rect x="867.00" y="79.25" width="1.00" height="13.75" fill="#000" fill-opacity="0.90"/>
<rect x="868.00" y="67.12" width="1.00" height="25.88" fill="#000" fill-opacity="0.85"/>
<rect x="870.00" y="70.25" width="1.00" height="22.75" fill="#000" fill-opacity="0.80"/>
<rect x="872.00" y="79.25" width="1.00" height="13.75" fill="#000" fill-opacity="0.60"/>
<rect x="873.00" y="76.12" width="1.00" height="16.88" fill="#000" fill-opacity="0.70"/>
<rect x="874.00" y="69.25" width="1.00" height="23.75" fill="#000" fill-opacity="0.50"/>
<rect x="875.00" y="78.62" width="1.00" height="14.38" fill="#000" fill-opacity="0.50"/>
<rect x="876.00" y="79.25" width="1.00" height="13.75" fill="#000" fill-opacity="0.50"/>
<rect x="877.00" y="86.12" width="1.00" height="6.88" fill="#000" fill-opacity="0.70"/>
<rect x="878.00" y="72.75" width="1.00" height="20.25" fill="#000" fill-opacity="0.50"/>
<rect x="879.00" y="81.75" width="1.00" height="11.25" fill="#000" fill-opacity="0.85"/>
<rect x="881.00" y="81.50" width="1.00" height="11.50" fill="#000" fill-opacity="0.75"/>
<rect x="883.00" y="60.25" width="1.00" height="32.75" fill="#000" fill-opacity="0.50"/>
<rect x="884.00" y="81.75" width="1.00" height="11.25" fill="#000" fill-opacity="0.90"/>
<rect x="891.23" y="71.50" width="1.30" height="21.50" fill="#000" fill-opacity="0.50"/>
<rect x="894.00" y="86.12" width="1.00" height="6.88" fill="#000" fill-opacity="0.50"/>
<rect x="899.00" y="72.75" width="1.00" height="20.25" fill="#000" fill-opacity="0.65"/>
<rect x="937.35" y="78.62" width="1.30" height="14.38" fill="#000" fill-opacity="0.50"/>
<rect x="835.00" y="93.00" width="1.00" height="14.62" fill="#000" fill-opacity="0.77"/>
<rect x="840.00" y="93.00" width="1.00" height="11.50" fill="#000" fill-opacity="0.50"/>
<rect x="845.00" y="93.00" width="1.00" height="11.50" fill="#000" fill-opacity="0.80"/>
<rect x="851.00" y="93.00" width="1.00" height="7.50" fill="#000" fill-opacity="0.40"/>
<rect x="854.00" y="93.00" width="1.00" height="29.62" fill="#000" fill-opacity="0.77"/>
<rect x="874.00" y="93.00" width="1.00" height="11.50" fill="#000" fill-opacity="0.77"/>
<rect x="878.00" y="93.00" width="1.00" height="7.50" fill="#000" fill-opacity="0.40"/>
<rect x="885.00" y="93.00" width="1.00" height="18.33" fill="#000" fill-opacity="0.90"/>
<rect x="886.00" y="93.00" width="1.00" height="32.92" fill="#000" fill-opacity="0.90"/>
<rect x="887.00" y="93.00" width="1.00" height="11.67" fill="#000" fill-opacity="0.30"/>
<rect x="888.00" y="93.00" width="1.00" height="25.42" fill="#000" fill-opacity="0.70"/>
<rect x="889.00" y="93.00" width="1.00" height="25.42" fill="#000" fill-opacity="0.70"/>
<rect x="890.00" y="93.00" width="1.00" height="17.50" fill="#000" fill-opacity="0.90"/>
<rect x="891.00" y="93.00" width="1.00" height="30.83" fill="#000" fill-opacity="0.85"/>
<rect x="892.00" y="93.00" width="1.00" height="28.33" fill="#000" fill-opacity="0.50"/>
<rect x="893.00" y="93.00" width="1.00" height="31.67" fill="#000" fill-opacity="0.80"/>
<rect x="894.00" y="93.00" width="1.00" height="23.33" fill="#000" fill-opacity="0.60"/>
<rect x="895.00" y="93.00" width="1.00" height="33.33" fill="#000" fill-opacity="0.50"/>
<rect x="896.00" y="93.00" width="1.00" height="24.17" fill="#000" fill-opacity="0.85"/>
<rect x="899.00" y="93.00" width="1.00" height="11.67" fill="#000" fill-opacity="0.90"/>
<rect x="900.00" y="93.00" width="1.00" height="20.83" fill="#000" fill-opacity="0.90"/>
<rect x="901.00" y="93.00" width="1.00" height="30.83" fill="#000" fill-opacity="1.00"/>
<rect x="902.00" y="93.00" width="1.00" height="28.33" fill="#000" fill-opacity="1.00"/>
<rect x="903.00" y="93.00" width="1.00" height="26.67" fill="#000" fill-opacity="1.00"/>
<rect x="904.00" y="93.00" width="1.00" height="23.33" fill="#000" fill-opacity="0.90"/>
<rect x="905.00" y="93.00" width="1.00" height="39.58" fill="#000" fill-opacity="0.70"/>
<rect x="906.00" y="93.00" width="1.00" height="24.17" fill="#000" fill-opacity="0.40"/>
<rect x="907.00" y="93.00" width="1.00" height="20.83" fill="#000" fill-opacity="0.90"/>
<rect x="907.00" y="93.00" width="1.00" height="33.75" fill="#000" fill-opacity="0.50"/>
<rect x="908.00" y="93.00" width="1.00" height="22.50" fill="#000" fill-opacity="0.90"/>
<rect x="909.00" y="93.00" width="1.00" height="25.00" fill="#000" fill-opacity="0.80"/>
<rect x="910.00" y="93.00" width="1.00" height="37.08" fill="#000" fill-opacity="0.80"/>
<rect x="911.00" y="93.00" width="1.00" height="19.17" fill="#000" fill-opacity="0.50"/>
<rect x="912.00" y="93.00" width="1.00" height="32.50" fill="#000" fill-opacity="0.90"/>
<rect x="913.00" y="93.00" width="1.00" height="22.50" fill="#000" fill-opacity="0.80"/>
<rect x="914.00" y="93.00" width="1.00" height="20.00" fill="#000" fill-opacity="0.30"/>
<rect x="915.00" y="93.00" width="1.00" height="20.00" fill="#000" fill-opacity="1.00"/>
<rect x="916.00" y="93.00" width="1.00" height="28.33" fill="#000" fill-opacity="1.00"/>
<rect x="916.00" y="93.00" width="1.00" height="38.33" fill="#000" fill-opacity="0.50"/>
<rect x="917.00" y="93.00" width="1.00" height="28.33" fill="#000" fill-opacity="1.00"/>
<rect x="918.00" y="93.00" width="1.00" height="26.67" fill="#000" fill-opacity="0.70"/>
<rect x="920.00" y="93.00" width="1.00" height="20.00" fill="#000" fill-opacity="0.40"/>
<rect x="921.00" y="93.00" width="1.00" height="20.00" fill="#000" fill-opacity="0.50"/>
<rect x="922.00" y="93.00" width="1.00" height="32.50" fill="#000" fill-opacity="0.85"/>
<rect x="925.00" y="93.00" width="1.00" height="20.42" fill="#000" fill-opacity="0.80"/>
<rect x="926.00" y="93.00" width="1.00" height="16.67" fill="#000" fill-opacity="0.30"/>
<rect x="927.00" y="93.00" width="1.00" height="11.67" fill="#000" fill-opacity="0.50"/>
<rect x="929.00" y="93.00" width="1.00" height="25.83" fill="#000" fill-opacity="0.60"/>
<rect x="930.00" y="93.00" width="1.00" height="19.17" fill="#000" fill-opacity="0.60"/>
<rect x="931.00" y="93.00" width="1.00" height="18.33" fill="#000" fill-opacity="0.60"/>
<rect x="932.00" y="93.00" width="1.00" height="11.67" fill="#000" fill-opacity="0.70"/>
<rect x="934.00" y="93.00" width="1.00" height="28.33" fill="#000" fill-opacity="1.00"/>
<rect x="934.00" y="93.00" width="1.00" height="39.58" fill="#000" fill-opacity="0.50"/>
<rect x="936.00" y="93.00" width="1.00" height="15.00" fill="#000" fill-opacity="0.90"/>
<rect x="937.00" y="93.00" width="1.00" height="15.00" fill="#000" fill-opacity="0.30"/>
<rect x="938.00" y="93.00" width="1.00" height="22.50" fill="#000" fill-opacity="0.60"/>
<rect x="939.00" y="93.00" width="1.00" height="31.67" fill="#000" fill-opacity="1.00"/>
<rect x="940.00" y="93.00" width="1.00" height="33.75" fill="#000" fill-opacity="1.00"/>
<rect x="941.00" y="93.00" width="1.00" height="26.67" fill="#000" fill-opacity="1.00"/>
<rect x="942.00" y="93.00" width="1.00" height="27.50" fill="#000" fill-opacity="0.80"/>
<rect x="943.00" y="93.00" width="1.00" height="23.33" fill="#000" fill-opacity="0.90"/>
<rect x="944.00" y="93.00" width="1.00" height="28.33" fill="#000" fill-opacity="0.50"/>
<rect x="945.00" y="93.00" width="1.00" height="19.17" fill="#000" fill-opacity="0.70"/>
<rect x="946.00" y="93.00" width="1.00" height="20.00" fill="#000" fill-opacity="0.90"/>
<rect x="947.00" y="93.00" width="1.00" height="19.17" fill="#000" fill-opacity="0.90"/>
<rect x="948.00" y="93.00" width="1.00" height="31.67" fill="#000" fill-opacity="0.80"/>
<rect x="949.00" y="93.00" width="1.00" height="33.75" fill="#000" fill-opacity="0.60"/>
<rect x="950.00" y="93.00" width="1.00" height="31.67" fill="#000" fill-opacity="0.80"/>
<rect x="951.00" y="93.00" width="1.00" height="25.00" fill="#000" fill-opacity="1.00"/>
<rect x="952.00" y="93.00" width="1.00" height="29.58" fill="#000" fill-opacity="0.90"/>
<rect x="953.00" y="93.00" width="1.00" height="15.00" fill="#000" fill-opacity="0.80"/>
<rect x="954.00" y="93.00" width="1.00" height="15.00" fill="#000" fill-opacity="0.80"/>
<rect x="955.00" y="93.00" width="1.00" height="17.50" fill="#000" fill-opacity="0.80"/>
<rect x="955.00" y="93.00" width="1.00" height="40.67" fill="#000" fill-opacity="0.50"/>
<rect x="956.00" y="93.00" width="1.00" height="16.67" fill="#000" fill-opacity="0.90"/>
<rect x="957.00" y="93.00" width="1.00" height="16.67" fill="#000" fill-opacity="0.60"/>
<rect x="958.00" y="93.00" width="1.00" height="22.92" fill="#000" fill-opacity="0.60"/>
<rect x="959.00" y="93.00" width="1.00" height="22.50" fill="#000" fill-opacity="0.60"/>
<rect x="960.00" y="93.00" width="1.00" height="11.67" fill="#000" fill-opacity="0.90"/>
<rect x="961.00" y="93.00" width="1.00" height="15.00" fill="#000" fill-opacity="0.90"/>
<rect x="962.00" y="93.00" width="1.00" height="24.17" fill="#000" fill-opacity="1.00"/>
<rect x="963.00" y="93.00" width="1.00" height="29.17" fill="#000" fill-opacity="0.90"/>
<rect x="964.00" y="93.00" width="1.00" height="31.67" fill="#000" fill-opacity="0.80"/>
<rect x="964.00" y="93.00" width="1.00" height="42.50" fill="#000" fill-opacity="0.50"/>
<rect x="965.00" y="93.00" width="1.00" height="30.00" fill="#000" fill-opacity="1.00"/>
<rect x="966.00" y="93.00" width="1.00" height="24.58" fill="#000" fill-opacity="0.90"/>
<rect x="967.00" y="93.00" width="1.00" height="15.00" fill="#000" fill-opacity="0.90"/>
<rect x="968.00" y="93.00" width="1.00" height="28.33" fill="#000" fill-opacity="1.00"/>
<rect x="969.00" y="93.00" width="1.00" height="25.83" fill="#000" fill-opacity="0.80"/>
<rect x="969.00" y="93.00" width="1.00" height="40.67" fill="#000" fill-opacity="0.55"/>
<rect x="970.00" y="93.00" width="1.00" height="24.17" fill="#000" fill-opacity="0.90"/>
<rect x="972.00" y="93.00" width="1.00" height="20.00" fill="#000" fill-opacity="0.90"/>
<rect x="973.00" y="93.00" width="1.00" height="26.67" fill="#000" fill-opacity="0.90"/>
<rect x="974.00" y="93.00" width="1.00" height="22.50" fill="#000" fill-opacity="0.50"/>
<rect x="975.00" y="93.00" width="1.00" height="20.00" fill="#000" fill-opacity="0.90"/>
<rect x="976.00" y="93.00" width="1.00" height="28.33" fill="#000" fill-opacity="0.80"/>
<rect x="977.00" y="93.00" width="1.00" height="24.17" fill="#000" fill-opacity="0.70"/>
<rect x="978.00" y="93.00" width="1.00" height="26.67" fill="#000" fill-opacity="0.90"/>
<rect x="979.00" y="93.00" width="1.00" height="20.00" fill="#000" fill-opacity="0.90"/>
<rect x="980.00" y="93.00" width="1.00" height="17.50" fill="#000" fill-opacity="0.80"/>
<rect x="980.00" y="93.00" width="1.00" height="22.50" fill="#000" fill-opacity="0.40"/>
<rect x="981.00" y="93.00" width="1.00" height="17.50" fill="#000" fill-opacity="0.85"/>
<rect x="982.00" y="93.00" width="1.00" height="16.67" fill="#000" fill-opacity="0.85"/>
<rect x="983.00" y="93.00" width="1.00" height="30.00" fill="#000" fill-opacity="1.00"/>
<rect x="984.00" y="93.00" width="1.00" height="32.50" fill="#000" fill-opacity="0.70"/>
<rect x="985.00" y="93.00" width="1.00" height="15.00" fill="#000" fill-opacity="0.60"/>
<rect x="986.00" y="93.00" width="1.00" height="9.17" fill="#000" fill-opacity="0.30"/>
<rect x="987.00" y="93.00" width="1.00" height="18.33" fill="#000" fill-opacity="0.90"/>
<rect x="988.00" y="93.00" width="1.00" height="15.00" fill="#000" fill-opacity="0.80"/>
<rect x="991.00" y="93.00" width="1.00" height="14.17" fill="#000" fill-opacity="0.40"/>
<rect x="992.00" y="93.00" width="1.00" height="19.17" fill="#000" fill-opacity="0.80"/>
<rect x="992.00" y="93.00" width="1.00" height="24.58" fill="#000" fill-opacity="0.40"/>
<rect x="993.00" y="93.00" width="1.00" height="30.42" fill="#000" fill-opacity="0.60"/>
<rect x="994.00" y="93.00" width="1.00" height="11.67" fill="#000" fill-opacity="0.40"/>
<rect x="995.00" y="93.00" width="1.00" height="20.00" fill="#000" fill-opacity="0.90"/>
<rect x="996.00" y="93.00" width="1.00" height="31.67" fill="#000" fill-opacity="1.00"/>
<rect x="997.00" y="93.00" width="1.00" height="35.00" fill="#000" fill-opacity="1.00"/>
<rect x="998.00" y="93.00" width="1.00" height="33.33" fill="#000" fill-opacity="1.00"/>
<rect x="998.00" y="93.00" width="1.00" height="38.33" fill="#000" fill-opacity="0.50"/>
<rect x="998.00" y="93.00" width="1.00" height="22.50" fill="#000" fill-opacity="0.90"/>
<rect x="1000.00" y="93.00" width="1.00" height="17.08" fill="#000" fill-opacity="0.85"/>
<rect x="1001.00" y="93.00" width="1.00" height="12.50" fill="#000" fill-opacity="0.40"/>
<rect x="1003.00" y="93.00" width="1.00" height="33.75" fill="#000" fill-opacity="0.85"/>
<rect x="1004.00" y="93.00" width="1.00" height="11.67" fill="#000" fill-opacity="0.70"/>
<rect x="1005.00" y="93.00" width="1.00" height="18.33" fill="#000" fill-opacity="1.00"/>
<rect x="1006.00" y="93.00" width="1.00" height="20.00" fill="#000" fill-opacity="0.90"/>
<rect x="1006.00" y="93.00" width="1.00" height="25.00" fill="#000" fill-opacity="0.40"/>
<rect x="1007.00" y="93.00" width="1.00" height="20.00" fill="#000" fill-opacity="1.00"/>
<rect x="1008.00" y="93.00" width="1.00" height="20.00" fill="#000" fill-opacity="0.40"/>
<rect x="1009.00" y="93.00" width="1.00" height="15.00" fill="#000" fill-opacity="0.30"/>
<rect x="1011.00" y="93.00" width="1.00" height="22.92" fill="#000" fill-opacity="0.60"/>
<rect x="1013.00" y="93.00" width="1.00" height="32.50" fill="#000" fill-opacity="1.00"/>
<rect x="1014.00" y="93.00" width="1.00" height="34.58" fill="#000" fill-opacity="0.90"/>
<rect x="1015.00" y="93.00" width="1.00" height="18.33" fill="#000" fill-opacity="0.85"/>
<rect x="1016.00" y="93.00" width="1.00" height="16.67" fill="#000" fill-opacity="0.60"/>
<rect x="1017.00" y="93.00" width="1.00" height="26.67" fill="#000" fill-opacity="0.90"/>
<rect x="1018.00" y="93.00" width="1.00" height="35.83" fill="#000" fill-opacity="0.85"/>
<rect x="1019.00" y="93.00" width="1.00" height="34.17" fill="#000" fill-opacity="0.80"/>
<rect x="1020.00" y="93.00" width="1.00" height="15.83" fill="#000" fill-opacity="0.90"/>
<rect x="1021.00" y="93.00" width="1.00" height="21.67" fill="#000" fill-opacity="0.80"/>
<rect x="1022.00" y="93.00" width="1.00" height="15.83" fill="#000" fill-opacity="0.40"/>
<rect x="1023.00" y="93.00" width="1.00" height="20.83" fill="#000" fill-opacity="0.90"/>
<rect x="1024.00" y="93.00" width="1.00" height="30.42" fill="#000" fill-opacity="0.80"/>
<rect x="1025.00" y="93.00" width="1.00" height="22.50" fill="#000" fill-opacity="0.70"/>
<rect x="1026.00" y="93.00" width="1.00" height="7.50" fill="#000" fill-opacity="0.20"/>
<rect x="1027.00" y="93.00" width="1.00" height="25.00" fill="#000" fill-opacity="0.90"/>
<rect x="1028.00" y="93.00" width="1.00" height="18.33" fill="#000" fill-opacity="0.70"/>
<rect x="1029.00" y="93.00" width="1.00" height="15.83" fill="#000" fill-opacity="0.90"/>
<rect x="1030.00" y="93.00" width="1.00" height="32.50" fill="#000" fill-opacity="0.90"/>
<rect x="1031.00" y="93.00" width="1.00" height="28.33" fill="#000" fill-opacity="0.60"/>
<rect x="1032.00" y="93.00" width="1.00" height="32.92" fill="#000" fill-opacity="1.00"/>
<rect x="1033.00" y="93.00" width="1.00" height="28.33" fill="#000" fill-opacity="1.00"/>
<rect x="1034.00" y="93.00" width="1.00" height="25.00" fill="#000" fill-opacity="0.80"/>
<rect x="1034.00" y="93.00" width="1.00" height="30.83" fill="#000" fill-opacity="0.40"/>
<rect x="1035.00" y="93.00" width="1.00" height="15.00" fill="#000" fill-opacity="1.00"/>
<rect x="1036.00" y="93.00" width="1.00" height="7.50" fill="#000" fill-opacity="0.50"/>
<rect x="1037.00" y="93.00" width="1.00" height="11.67" fill="#000" fill-opacity="0.40"/>
<rect x="1038.00" y="93.00" width="1.00" height="26.25" fill="#000" fill-opacity="0.90"/>
<rect x="1039.00" y="93.00" width="1.00" height="18.33" fill="#000" fill-opacity="0.80"/>
<rect x="1040.00" y="93.00" width="1.00" height="17.50" fill="#000" fill-opacity="0.40"/>
<rect x="1043.00" y="93.00" width="1.00" height="20.42" fill="#000" fill-opacity="0.85"/>
<rect x="1044.00" y="93.00" width="1.00" height="15.00" fill="#000" fill-opacity="0.70"/>
<rect x="1045.00" y="93.00" width="1.00" height="17.50" fill="#000" fill-opacity="0.85"/>
<rect x="1045.00" y="93.00" width="1.00" height="20.42" fill="#000" fill-opacity="0.40"/>
<rect x="1046.00" y="93.00" width="1.00" height="15.00" fill="#000" fill-opacity="1.00"/>
<rect x="1047.00" y="93.00" width="1.00" height="15.00" fill="#000" fill-opacity="1.00"/>
<rect x="1048.00" y="93.00" width="1.00" height="20.00" fill="#000" fill-opacity="1.00"/>
<rect x="1049.00" y="93.00" width="1.00" height="37.50" fill="#000" fill-opacity="1.00"/>
<rect x="1050.00" y="93.00" width="1.00" height="30.00" fill="#000" fill-opacity="1.00"/>
<rect x="1051.00" y="93.00" width="1.00" height="15.00" fill="#000" fill-opacity="0.90"/>
<rect x="1052.00" y="93.00" width="1.00" height="16.67" fill="#000" fill-opacity="0.90"/>
<rect x="1053.00" y="93.00" width="1.00" height="21.67" fill="#000" fill-opacity="0.80"/>
<rect x="1054.00" y="93.00" width="1.00" height="7.50" fill="#000" fill-opacity="0.50"/>
<rect x="1057.00" y="93.00" width="1.00" height="21.67" fill="#000" fill-opacity="0.90"/>
<rect x="1058.00" y="93.00" width="1.00" height="25.83" fill="#000" fill-opacity="0.50"/>
<rect x="1029.00" y="78.62" width="1.00" height="14.38" fill="#000" fill-opacity="0.72"/>
<rect x="1050.00" y="81.50" width="1.00" height="11.50" fill="#000" fill-opacity="0.72"/>
<rect x="1078.00" y="70.25" width="1.00" height="22.75" fill="#000" fill-opacity="0.60"/>
<rect x="1112.35" y="76.12" width="1.30" height="16.88" fill="#000" fill-opacity="0.50"/>
<rect x="1131.00" y="71.50" width="1.00" height="21.50" fill="#000" fill-opacity="0.63"/>
<rect x="1057.00" y="93.00" width="1.00" height="21.88" fill="#000" fill-opacity="0.90"/>
<rect x="1058.00" y="93.00" width="1.00" height="25.62" fill="#000" fill-opacity="0.50"/>
<rect x="1070.00" y="93.00" width="1.00" height="7.50" fill="#000" fill-opacity="0.40"/>
<rect x="1072.00" y="93.00" width="1.00" height="22.75" fill="#000" fill-opacity="0.50"/>
<rect x="1074.00" y="93.00" width="1.00" height="28.12" fill="#000" fill-opacity="0.60"/>
<rect x="1076.00" y="93.00" width="1.00" height="33.50" fill="#000" fill-opacity="0.85"/>
<rect x="1077.00" y="93.00" width="1.00" height="26.25" fill="#000" fill-opacity="0.50"/>
<rect x="1079.00" y="93.00" width="1.00" height="24.00" fill="#000" fill-opacity="0.80"/>
<rect x="1084.00" y="93.00" width="1.00" height="21.50" fill="#000" fill-opacity="0.60"/>
<rect x="1088.00" y="93.00" width="1.00" height="26.25" fill="#000" fill-opacity="0.60"/>
<rect x="1088.00" y="93.00" width="1.00" height="21.50" fill="#000" fill-opacity="0.80"/>
<rect x="1091.00" y="93.00" width="1.00" height="16.88" fill="#000" fill-opacity="0.40"/>
<rect x="1091.00" y="93.00" width="1.00" height="7.50" fill="#000" fill-opacity="0.80"/>
<rect x="1097.00" y="93.00" width="1.00" height="18.50" fill="#000" fill-opacity="0.60"/>
<rect x="1098.00" y="93.00" width="1.00" height="20.25" fill="#000" fill-opacity="0.85"/>
<rect x="1099.00" y="93.00" width="1.00" height="11.50" fill="#000" fill-opacity="0.70"/>
<rect x="1102.00" y="93.00" width="1.00" height="20.25" fill="#000" fill-opacity="0.70"/>
<rect x="1103.00" y="93.00" width="1.00" height="20.25" fill="#000" fill-opacity="0.50"/>
<rect x="1106.00" y="93.00" width="1.00" height="21.50" fill="#000" fill-opacity="0.40"/>
<rect x="1107.00" y="93.00" width="1.00" height="16.88" fill="#000" fill-opacity="0.60"/>
<rect x="1108.00" y="93.00" width="1.00" height="14.62" fill="#000" fill-opacity="0.60"/>
<rect x="1109.00" y="93.00" width="1.00" height="30.62" fill="#000" fill-opacity="0.77"/>
<rect x="1110.00" y="93.00" width="1.00" height="14.62" fill="#000" fill-opacity="0.80"/>
<rect x="1117.00" y="93.00" width="1.00" height="22.75" fill="#000" fill-opacity="0.77"/>
<rect x="1126.10" y="93.00" width="1.30" height="24.00" fill="#000" fill-opacity="0.50"/>
<rect x="1134.00" y="93.00" width="1.00" height="21.50" fill="#000" fill-opacity="0.50"/>
<rect x="1135.00" y="93.00" width="1.00" height="16.88" fill="#000" fill-opacity="0.60"/>
<rect x="1136.00" y="93.00" width="1.00" height="14.62" fill="#000" fill-opacity="0.95"/>
<rect x="1136.00" y="93.00" width="1.00" height="7.50" fill="#000" fill-opacity="0.90"/>
<rect x="81.3" y="92.1" width="1056.5" height="1.7" fill="#3a3a3a"/>
<rect x="522.65" y="43" width="1.3" height="50" fill="#ff1414" fill-opacity="0.8"/>
<rect x="695.35" y="43" width="1.3" height="50" fill="#ff1414" fill-opacity="0.8"/>
<rect x="39" y="239" width="1141" height="112.35000000000002" fill="none" stroke="#2a2a2a" stroke-width="1"/>
<line x1="192.3" y1="351.35" x2="897.3" y2="351.35" stroke="#111" stroke-width="1.1"/>
<line x1="39" y1="351.35" x2="1180" y2="351.35" stroke="#222" stroke-width="1"/>
<line x1="39" y1="257.0" x2="39" y2="329.4" stroke="#222" stroke-width="1.2"/>
<line x1="34" y1="257.3" x2="39" y2="257.3" stroke="#333" stroke-width="0.75"/>
<text transform="translate(29.0,257.2) rotate(-90)" font-size="7.2" text-anchor="middle" fill="#000" stroke="#000" stroke-width="0.2" letter-spacing="0">5</text>
<line x1="34" y1="293.1" x2="39" y2="293.1" stroke="#333" stroke-width="0.75"/>
<text transform="translate(29.0,293.0) rotate(-90)" font-size="7.2" text-anchor="middle" fill="#000" stroke="#000" stroke-width="0.2" letter-spacing="0">0</text>
<line x1="34" y1="329.25" x2="39" y2="329.25" stroke="#333" stroke-width="0.75"/>
<text transform="translate(29.0,329.15) rotate(-90)" font-size="7.2" text-anchor="middle" fill="#000" stroke="#000" stroke-width="0.2" letter-spacing="0.7">-5</text>
<line x1="192.3" y1="351.35" x2="192.3" y2="356.85" stroke="#444" stroke-width="1"/>
<text transform="translate(192.20000000000002,369.75) scale(1,1.03)" font-size="7.0" fill="#000" stroke="#000" stroke-width="0.18" text-anchor="middle" font-weight="normal" letter-spacing="0.15">890000</text>
<line x1="544.8" y1="351.35" x2="544.8" y2="356.85" stroke="#444" stroke-width="1"/>
<text transform="translate(544.6999999999999,369.75) scale(1,1.03)" font-size="7.0" fill="#000" stroke="#000" stroke-width="0.18" text-anchor="middle" font-weight="normal" letter-spacing="0.15">895000</text>
<line x1="897.3" y1="351.35" x2="897.3" y2="356.85" stroke="#444" stroke-width="1"/>
<text transform="translate(897.1999999999999,369.75) scale(1,1.03)" font-size="7.0" fill="#000" stroke="#000" stroke-width="0.18" text-anchor="middle" font-weight="normal" letter-spacing="0.15">900000</text>
<text transform="translate(10.2,294.7) rotate(-90)" font-size="7.9" text-anchor="middle" fill="#000" stroke="#000" stroke-width="0.15" letter-spacing="-0.2">log2 tag density</text>
<text transform="translate(610,223) scale(1,1.075)" font-size="9.2" fill="#000" text-anchor="middle" font-weight="bold" letter-spacing="0.38">WT lithium+, ribominus</text>
<rect x="105.35" y="267.38" width="1.30" height="25.62" fill="#000" fill-opacity="0.50"/>
<rect x="107.00" y="286.75" width="1.00" height="6.25" fill="#000" fill-opacity="0.60"/>
<rect x="108.00" y="271.50" width="1.00" height="21.50" fill="#000" fill-opacity="0.45"/>
<rect x="116.00" y="286.75" width="1.00" height="6.25" fill="#000" fill-opacity="0.40"/>
<rect x="119.05" y="251.50" width="1.40" height="41.50" fill="#000" fill-opacity="0.45"/>
<rect x="120.00" y="282.38" width="1.00" height="10.62" fill="#000" fill-opacity="0.85"/>
<rect x="125.00" y="277.38" width="1.00" height="15.62" fill="#000" fill-opacity="0.70"/>
<rect x="126.00" y="272.75" width="1.00" height="20.25" fill="#000" fill-opacity="0.50"/>
<rect x="127.00" y="279.88" width="1.00" height="13.12" fill="#000" fill-opacity="0.80"/>
<rect x="128.00" y="272.75" width="1.00" height="20.25" fill="#000" fill-opacity="0.50"/>
<rect x="128.00" y="283.00" width="1.00" height="10.00" fill="#000" fill-opacity="0.80"/>
<rect x="129.00" y="279.88" width="1.00" height="13.12" fill="#000" fill-opacity="0.60"/>
<rect x="131.00" y="282.75" width="1.00" height="10.25" fill="#000" fill-opacity="0.60"/>
<rect x="132.00" y="286.75" width="1.00" height="6.25" fill="#000" fill-opacity="0.40"/>
<rect x="133.00" y="286.75" width="1.00" height="6.25" fill="#000" fill-opacity="0.40"/>
<rect x="135.00" y="279.88" width="1.00" height="13.12" fill="#000" fill-opacity="0.70"/>
<rect x="136.00" y="272.75" width="1.00" height="20.25" fill="#000" fill-opacity="0.60"/>
<rect x="137.00" y="277.38" width="1.00" height="15.62" fill="#000" fill-opacity="0.90"/>
<rect x="138.00" y="259.50" width="1.00" height="33.50" fill="#000" fill-opacity="0.72"/>
<rect x="138.00" y="274.25" width="1.00" height="18.75" fill="#000" fill-opacity="0.90"/>
<rect x="139.00" y="279.25" width="1.00" height="13.75" fill="#000" fill-opacity="0.70"/>
<rect x="140.00" y="279.88" width="1.00" height="13.12" fill="#000" fill-opacity="0.80"/>
<rect x="141.00" y="279.88" width="1.00" height="13.12" fill="#000" fill-opacity="0.80"/>
<rect x="142.00" y="275.50" width="1.00" height="17.50" fill="#000" fill-opacity="0.80"/>
<rect x="144.00" y="270.25" width="1.00" height="22.75" fill="#000" fill-opacity="0.60"/>
<rect x="145.00" y="281.75" width="1.00" height="11.25" fill="#000" fill-opacity="0.60"/>
<rect x="146.00" y="270.25" width="1.00" height="22.75" fill="#000" fill-opacity="0.90"/>
<rect x="147.00" y="279.88" width="1.00" height="13.12" fill="#000" fill-opacity="0.90"/>
<rect x="148.00" y="283.00" width="1.00" height="10.00" fill="#000" fill-opacity="0.60"/>
<rect x="149.00" y="263.00" width="1.00" height="30.00" fill="#000" fill-opacity="0.85"/>
<rect x="150.00" y="283.00" width="1.00" height="10.00" fill="#000" fill-opacity="0.50"/>
<rect x="151.00" y="277.38" width="1.00" height="15.62" fill="#000" fill-opacity="0.90"/>
<rect x="152.00" y="269.25" width="1.00" height="23.75" fill="#000" fill-opacity="0.85"/>
<rect x="153.00" y="279.88" width="1.00" height="13.12" fill="#000" fill-opacity="0.70"/>
<rect x="154.00" y="286.75" width="1.00" height="6.25" fill="#000" fill-opacity="0.60"/>
<rect x="157.00" y="286.75" width="1.00" height="6.25" fill="#000" fill-opacity="0.80"/>
<rect x="158.00" y="275.50" width="1.00" height="17.50" fill="#000" fill-opacity="0.80"/>
<rect x="159.00" y="279.88" width="1.00" height="13.12" fill="#000" fill-opacity="0.90"/>
<rect x="160.00" y="279.88" width="1.00" height="13.12" fill="#000" fill-opacity="0.80"/>
<rect x="160.00" y="275.50" width="1.00" height="17.50" fill="#000" fill-opacity="0.60"/>
<rect x="161.00" y="286.75" width="1.00" height="6.25" fill="#000" fill-opacity="0.90"/>
<rect x="162.00" y="277.38" width="1.00" height="15.62" fill="#000" fill-opacity="0.80"/>
<rect x="163.00" y="279.88" width="1.00" height="13.12" fill="#000" fill-opacity="0.60"/>
<rect x="164.00" y="283.00" width="1.00" height="10.00" fill="#000" fill-opacity="0.90"/>
<rect x="165.00" y="279.88" width="1.00" height="13.12" fill="#000" fill-opacity="0.95"/>
<rect x="166.00" y="279.25" width="1.00" height="13.75" fill="#000" fill-opacity="0.95"/>
<rect x="168.00" y="272.38" width="1.00" height="20.62" fill="#000" fill-opacity="0.72"/>
<rect x="184.00" y="279.50" width="1.00" height="13.50" fill="#000" fill-opacity="0.63"/>
<rect x="211.00" y="286.75" width="1.00" height="6.25" fill="#000" fill-opacity="0.60"/>
<rect x="108.35" y="293.00" width="1.30" height="13.50" fill="#000" fill-opacity="0.45"/>
<rect x="113.00" y="293.00" width="1.00" height="6.50" fill="#000" fill-opacity="0.60"/>
<rect x="114.00" y="293.00" width="1.00" height="5.00" fill="#000" fill-opacity="0.40"/>
<rect x="115.00" y="293.00" width="1.00" height="10.62" fill="#000" fill-opacity="0.75"/>
<rect x="122.00" y="293.00" width="1.00" height="10.62" fill="#000" fill-opacity="0.90"/>
<rect x="123.00" y="293.00" width="1.00" height="15.62" fill="#000" fill-opacity="0.80"/>
<rect x="134.00" y="293.00" width="1.00" height="13.50" fill="#000" fill-opacity="0.72"/>
<rect x="136.00" y="293.00" width="1.00" height="13.50" fill="#000" fill-opacity="0.63"/>
<rect x="138.00" y="293.00" width="1.00" height="15.62" fill="#000" fill-opacity="0.80"/>
<rect x="143.00" y="293.00" width="1.00" height="17.50" fill="#000" fill-opacity="0.90"/>
<rect x="145.00" y="293.00" width="1.00" height="6.25" fill="#000" fill-opacity="0.40"/>
<rect x="146.00" y="293.00" width="1.00" height="15.62" fill="#000" fill-opacity="0.70"/>
<rect x="148.00" y="293.00" width="1.00" height="13.50" fill="#000" fill-opacity="0.40"/>
<rect x="149.00" y="293.00" width="1.00" height="15.62" fill="#000" fill-opacity="0.50"/>
<rect x="153.00" y="293.00" width="1.00" height="10.62" fill="#000" fill-opacity="0.60"/>
<rect x="155.22" y="293.00" width="1.30" height="17.50" fill="#000" fill-opacity="0.50"/>
<rect x="163.00" y="293.00" width="1.00" height="10.62" fill="#000" fill-opacity="0.90"/>
<rect x="164.35" y="293.00" width="1.30" height="19.38" fill="#000" fill-opacity="0.50"/>
<rect x="167.00" y="293.00" width="1.00" height="10.62" fill="#000" fill-opacity="0.60"/>
<rect x="168.00" y="293.00" width="1.00" height="6.25" fill="#000" fill-opacity="0.60"/>
<rect x="169.00" y="293.00" width="1.00" height="21.88" fill="#000" fill-opacity="0.85"/>
<rect x="170.00" y="293.00" width="1.00" height="15.62" fill="#000" fill-opacity="0.60"/>
<rect x="173.00" y="293.00" width="1.00" height="6.25" fill="#000" fill-opacity="0.90"/>
<rect x="173.00" y="293.00" width="1.00" height="32.50" fill="#000" fill-opacity="0.85"/>
<rect x="174.00" y="293.00" width="1.00" height="17.50" fill="#000" fill-opacity="1.00"/>
<rect x="175.00" y="293.00" width="1.00" height="10.62" fill="#000" fill-opacity="0.90"/>
<rect x="176.22" y="293.00" width="1.30" height="29.38" fill="#000" fill-opacity="0.50"/>
<rect x="180.00" y="293.00" width="1.00" height="6.25" fill="#000" fill-opacity="0.40"/>
<rect x="181.00" y="293.00" width="1.00" height="25.62" fill="#000" fill-opacity="0.85"/>
<rect x="182.00" y="293.00" width="1.00" height="31.25" fill="#000" fill-opacity="0.60"/>
<rect x="183.00" y="293.00" width="1.00" height="20.00" fill="#000" fill-opacity="1.00"/>
<rect x="184.00" y="293.00" width="1.00" height="17.50" fill="#000" fill-opacity="1.00"/>
<rect x="185.00" y="293.00" width="1.00" height="39.38" fill="#000" fill-opacity="0.55"/>
<rect x="186.00" y="293.00" width="1.00" height="10.62" fill="#000" fill-opacity="0.90"/>
<rect x="188.00" y="293.00" width="1.00" height="10.62" fill="#000" fill-opacity="0.90"/>
<rect x="189.00" y="293.00" width="1.00" height="10.62" fill="#000" fill-opacity="0.95"/>
<rect x="190.00" y="293.00" width="1.00" height="36.25" fill="#000" fill-opacity="0.90"/>
<rect x="191.00" y="293.00" width="1.00" height="19.38" fill="#000" fill-opacity="0.90"/>
<rect x="192.00" y="293.00" width="1.00" height="31.25" fill="#000" fill-opacity="0.60"/>
<rect x="193.00" y="293.00" width="1.00" height="6.25" fill="#000" fill-opacity="0.50"/>
<rect x="194.00" y="293.00" width="1.00" height="6.25" fill="#000" fill-opacity="0.40"/>
<rect x="197.00" y="293.00" width="1.00" height="21.88" fill="#000" fill-opacity="0.55"/>
<rect x="198.00" y="293.00" width="1.00" height="17.50" fill="#000" fill-opacity="0.70"/>
<rect x="201.00" y="293.00" width="1.00" height="6.25" fill="#000" fill-opacity="0.80"/>
<rect x="201.00" y="293.00" width="1.00" height="27.50" fill="#000" fill-opacity="0.80"/>
<rect x="202.00" y="293.00" width="1.00" height="13.50" fill="#000" fill-opacity="0.80"/>
<rect x="203.00" y="293.00" width="1.00" height="19.38" fill="#000" fill-opacity="0.90"/>
<rect x="204.00" y="293.00" width="1.00" height="27.50" fill="#000" fill-opacity="0.60"/>
<rect x="205.00" y="293.00" width="1.00" height="19.38" fill="#000" fill-opacity="0.70"/>
<rect x="206.00" y="293.00" width="1.00" height="6.25" fill="#000" fill-opacity="0.80"/>
<rect x="208.00" y="293.00" width="1.00" height="10.62" fill="#000" fill-opacity="0.70"/>
<rect x="209.00" y="293.00" width="1.00" height="20.00" fill="#000" fill-opacity="0.90"/>
<rect x="210.00" y="293.00" width="1.00" height="29.00" fill="#000" fill-opacity="0.55"/>
<rect x="210.00" y="293.00" width="1.00" height="10.62" fill="#000" fill-opacity="0.80"/>
<rect x="213.00" y="293.00" width="1.00" height="17.50" fill="#000" fill-opacity="0.80"/>
<rect x="215.00" y="293.00" width="1.00" height="13.50" fill="#000" fill-opacity="0.80"/>
<rect x="216.00" y="293.00" width="1.00" height="23.75" fill="#000" fill-opacity="0.60"/>
<rect x="217.00" y="293.00" width="1.00" height="20.62" fill="#000" fill-opacity="0.90"/>
<rect x="218.00" y="293.00" width="1.00" height="27.50" fill="#000" fill-opacity="0.60"/>
<rect x="219.00" y="293.00" width="1.00" height="25.00" fill="#000" fill-opacity="0.85"/>
<rect x="220.00" y="293.00" width="1.00" height="15.62" fill="#000" fill-opacity="0.85"/>
<rect x="221.00" y="293.00" width="1.00" height="11.25" fill="#000" fill-opacity="0.90"/>
<rect x="222.00" y="293.00" width="1.00" height="21.88" fill="#000" fill-opacity="0.60"/>
<rect x="223.00" y="293.00" width="1.00" height="15.62" fill="#000" fill-opacity="0.60"/>
<rect x="226.00" y="293.00" width="1.00" height="15.62" fill="#000" fill-opacity="0.50"/>
<rect x="227.00" y="293.00" width="1.00" height="17.50" fill="#000" fill-opacity="0.95"/>
<rect x="228.00" y="293.00" width="1.00" height="11.25" fill="#000" fill-opacity="1.00"/>
<rect x="229.00" y="293.00" width="1.00" height="17.50" fill="#000" fill-opacity="0.90"/>
<rect x="230.00" y="293.00" width="1.00" height="11.25" fill="#000" fill-opacity="0.90"/>
<rect x="231.00" y="293.00" width="1.00" height="17.50" fill="#000" fill-opacity="0.80"/>
<rect x="231.00" y="293.00" width="1.00" height="32.50" fill="#000" fill-opacity="0.60"/>
<rect x="232.00" y="293.00" width="1.00" height="6.25" fill="#000" fill-opacity="0.90"/>
<rect x="234.00" y="293.00" width="1.00" height="10.62" fill="#000" fill-opacity="0.80"/>
<rect x="235.00" y="293.00" width="1.00" height="15.62" fill="#000" fill-opacity="0.80"/>
<rect x="236.00" y="293.00" width="1.00" height="10.62" fill="#000" fill-opacity="0.60"/>
<rect x="238.00" y="293.00" width="1.00" height="10.62" fill="#000" fill-opacity="0.72"/>
<rect x="240.00" y="293.00" width="1.00" height="10.62" fill="#000" fill-opacity="0.50"/>
<rect x="241.00" y="293.00" width="1.00" height="15.62" fill="#000" fill-opacity="0.60"/>
<rect x="242.00" y="293.00" width="1.00" height="20.62" fill="#000" fill-opacity="0.80"/>
<rect x="243.00" y="293.00" width="1.00" height="10.62" fill="#000" fill-opacity="0.70"/>
<rect x="244.00" y="293.00" width="1.00" height="6.25" fill="#000" fill-opacity="0.90"/>
<rect x="245.00" y="293.00" width="1.00" height="32.50" fill="#000" fill-opacity="0.85"/>
<rect x="248.00" y="293.00" width="1.00" height="10.62" fill="#000" fill-opacity="0.60"/>
<rect x="249.00" y="293.00" width="1.00" height="6.25" fill="#000" fill-opacity="0.80"/>
<rect x="250.00" y="293.00" width="1.00" height="20.62" fill="#000" fill-opacity="0.80"/>
<rect x="251.00" y="293.00" width="1.00" height="10.62" fill="#000" fill-opacity="0.50"/>
<rect x="252.00" y="293.00" width="1.00" height="13.50" fill="#000" fill-opacity="0.80"/>
<rect x="255.00" y="293.00" width="1.00" height="13.50" fill="#000" fill-opacity="0.90"/>
<rect x="256.00" y="293.00" width="1.00" height="17.50" fill="#000" fill-opacity="0.80"/>
<rect x="256.00" y="293.00" width="1.00" height="27.50" fill="#000" fill-opacity="0.50"/>
<rect x="257.00" y="293.00" width="1.00" height="15.62" fill="#000" fill-opacity="0.90"/>
<rect x="259.00" y="293.00" width="1.00" height="20.62" fill="#000" fill-opacity="0.80"/>
<rect x="260.00" y="293.00" width="1.00" height="15.62" fill="#000" fill-opacity="0.85"/>
<rect x="261.00" y="293.00" width="1.00" height="20.62" fill="#000" fill-opacity="0.80"/>
<rect x="262.00" y="293.00" width="1.00" height="6.25" fill="#000" fill-opacity="0.40"/>
<rect x="263.00" y="293.00" width="1.00" height="21.88" fill="#000" fill-opacity="0.70"/>
<rect x="266.00" y="293.00" width="1.00" height="28.75" fill="#000" fill-opacity="0.60"/>
<rect x="268.00" y="293.00" width="1.00" height="15.62" fill="#000" fill-opacity="0.80"/>
<rect x="269.00" y="293.00" width="1.00" height="10.62" fill="#000" fill-opacity="0.60"/>
<rect x="270.00" y="293.00" width="1.00" height="6.25" fill="#000" fill-opacity="0.80"/>
<rect x="271.00" y="293.00" width="1.00" height="35.00" fill="#000" fill-opacity="0.80"/>
<rect x="272.00" y="293.00" width="1.00" height="10.62" fill="#000" fill-opacity="0.40"/>
<rect x="273.00" y="293.00" width="1.00" height="39.38" fill="#000" fill-opacity="0.75"/>
<rect x="274.00" y="293.00" width="1.00" height="10.62" fill="#000" fill-opacity="0.80"/>
<rect x="279.00" y="293.00" width="1.00" height="6.25" fill="#000" fill-opacity="0.80"/>
<rect x="280.00" y="293.00" width="1.00" height="17.50" fill="#000" fill-opacity="0.50"/>
<rect x="283.00" y="293.00" width="1.00" height="26.50" fill="#000" fill-opacity="0.80"/>
<rect x="284.00" y="293.00" width="1.00" height="15.62" fill="#000" fill-opacity="0.70"/>
<rect x="285.00" y="293.00" width="1.00" height="21.50" fill="#000" fill-opacity="0.60"/>
<rect x="290.00" y="293.00" width="1.00" height="13.50" fill="#000" fill-opacity="0.80"/>
<rect x="290.00" y="293.00" width="1.00" height="15.62" fill="#000" fill-opacity="0.60"/>
<rect x="292.00" y="293.00" width="1.00" height="25.00" fill="#000" fill-opacity="0.90"/>
<rect x="293.00" y="293.00" width="1.00" height="20.62" fill="#000" fill-opacity="0.80"/>
<rect x="294.00" y="293.00" width="1.00" height="11.25" fill="#000" fill-opacity="0.80"/>
<rect x="295.00" y="293.00" width="1.00" height="30.00" fill="#000" fill-opacity="0.80"/>
<rect x="296.00" y="293.00" width="1.00" height="31.25" fill="#000" fill-opacity="0.70"/>
<rect x="297.00" y="293.00" width="1.00" height="23.75" fill="#000" fill-opacity="0.90"/>
<rect x="298.00" y="293.00" width="1.00" height="17.50" fill="#000" fill-opacity="0.90"/>
<rect x="299.00" y="293.00" width="1.00" height="15.62" fill="#000" fill-opacity="0.80"/>
<rect x="300.00" y="293.00" width="1.00" height="6.25" fill="#000" fill-opacity="0.50"/>
<rect x="301.00" y="293.00" width="1.00" height="6.25" fill="#000" fill-opacity="0.50"/>
<rect x="303.00" y="293.00" width="1.00" height="15.62" fill="#000" fill-opacity="0.45"/>
<rect x="304.00" y="293.00" width="1.00" height="6.25" fill="#000" fill-opacity="0.40"/>
<rect x="306.00" y="293.00" width="1.00" height="22.50" fill="#000" fill-opacity="0.70"/>
<rect x="307.00" y="293.00" width="1.00" height="15.62" fill="#000" fill-opacity="0.60"/>
<rect x="308.00" y="293.00" width="1.00" height="10.62" fill="#000" fill-opacity="0.60"/>
<rect x="309.00" y="293.00" width="1.00" height="19.38" fill="#000" fill-opacity="0.50"/>
<rect x="311.00" y="293.00" width="1.00" height="17.50" fill="#000" fill-opacity="0.80"/>
<rect x="311.00" y="293.00" width="1.00" height="30.00" fill="#000" fill-opacity="0.90"/>
<rect x="316.00" y="293.00" width="1.00" height="15.00" fill="#000" fill-opacity="0.85"/>
<rect x="316.00" y="293.00" width="1.00" height="38.12" fill="#000" fill-opacity="0.65"/>
<rect x="318.00" y="293.00" width="1.00" height="6.25" fill="#000" fill-opacity="0.60"/>
<rect x="323.10" y="293.00" width="1.30" height="10.62" fill="#000" fill-opacity="0.45"/>
<rect x="326.00" y="293.00" width="1.00" height="10.62" fill="#000" fill-opacity="0.77"/>
<rect x="330.00" y="293.00" width="1.00" height="20.62" fill="#000" fill-opacity="0.80"/>
<rect x="332.00" y="293.00" width="1.00" height="13.50" fill="#000" fill-opacity="0.50"/>
<rect x="334.00" y="293.00" width="1.00" height="17.50" fill="#000" fill-opacity="0.60"/>
<rect x="335.00" y="293.00" width="1.00" height="10.62" fill="#000" fill-opacity="0.80"/>
<rect x="337.00" y="293.00" width="1.00" height="17.50" fill="#000" fill-opacity="0.60"/>
<rect x="338.00" y="293.00" width="1.00" height="20.62" fill="#000" fill-opacity="0.60"/>
<rect x="339.00" y="293.00" width="1.00" height="13.50" fill="#000" fill-opacity="0.80"/>
<rect x="340.00" y="293.00" width="1.00" height="10.62" fill="#000" fill-opacity="0.80"/>
<rect x="341.00" y="293.00" width="1.00" height="15.62" fill="#000" fill-opacity="0.80"/>
<rect x="342.00" y="293.00" width="1.00" height="10.62" fill="#000" fill-opacity="0.90"/>
<rect x="343.00" y="293.00" width="1.00" height="13.50" fill="#000" fill-opacity="0.80"/>
<rect x="344.00" y="293.00" width="1.00" height="10.62" fill="#000" fill-opacity="0.95"/>
<rect x="345.00" y="293.00" width="1.00" height="13.50" fill="#000" fill-opacity="0.80"/>
<rect x="346.00" y="293.00" width="1.00" height="6.25" fill="#000" fill-opacity="0.90"/>
<rect x="347.00" y="293.00" width="1.00" height="19.38" fill="#000" fill-opacity="0.50"/>
<rect x="348.00" y="293.00" width="1.00" height="11.25" fill="#000" fill-opacity="0.50"/>
<rect x="349.00" y="293.00" width="1.00" height="15.62" fill="#000" fill-opacity="0.50"/>
<rect x="360.00" y="293.00" width="1.00" height="17.50" fill="#000" fill-opacity="0.70"/>
<rect x="364.00" y="293.00" width="1.00" height="10.62" fill="#000" fill-opacity="0.70"/>
<rect x="366.00" y="293.00" width="1.00" height="6.25" fill="#000" fill-opacity="0.50"/>
<rect x="367.00" y="293.00" width="1.00" height="13.50" fill="#000" fill-opacity="0.70"/>
<rect x="368.00" y="293.00" width="1.00" height="17.50" fill="#000" fill-opacity="0.90"/>
<rect x="369.00" y="293.00" width="1.00" height="26.25" fill="#000" fill-opacity="0.85"/>
<rect x="369.00" y="293.00" width="1.00" height="45.62" fill="#000" fill-opacity="0.65"/>
<rect x="371.00" y="293.00" width="1.00" height="13.50" fill="#000" fill-opacity="0.80"/>
<rect x="375.00" y="293.00" width="1.00" height="10.62" fill="#000" fill-opacity="0.70"/>
<rect x="376.00" y="293.00" width="1.00" height="10.62" fill="#000" fill-opacity="0.70"/>
<rect x="378.00" y="293.00" width="1.00" height="13.50" fill="#000" fill-opacity="0.70"/>
<rect x="382.00" y="275.50" width="1.00" height="17.50" fill="#000" fill-opacity="0.75"/>
<rect x="387.23" y="282.75" width="1.30" height="10.25" fill="#000" fill-opacity="0.50"/>
<rect x="392.00" y="277.38" width="1.00" height="15.62" fill="#000" fill-opacity="0.70"/>
<rect x="405.00" y="275.50" width="1.00" height="17.50" fill="#000" fill-opacity="0.77"/>
<rect x="415.35" y="277.38" width="1.30" height="15.62" fill="#000" fill-opacity="0.50"/>
<rect x="430.23" y="275.50" width="1.30" height="17.50" fill="#000" fill-opacity="0.50"/>
<rect x="433.00" y="286.75" width="1.00" height="6.25" fill="#000" fill-opacity="0.50"/>
<rect x="438.00" y="286.75" width="1.00" height="6.25" fill="#000" fill-opacity="0.80"/>
<rect x="454.00" y="279.50" width="1.00" height="13.50" fill="#000" fill-opacity="0.75"/>
<rect x="464.35" y="286.75" width="1.30" height="6.25" fill="#000" fill-opacity="0.50"/>
<rect x="472.00" y="282.75" width="1.00" height="10.25" fill="#000" fill-opacity="0.55"/>
<rect x="477.00" y="277.38" width="1.00" height="15.62" fill="#000" fill-opacity="0.80"/>
<rect x="482.00" y="286.75" width="1.00" height="6.25" fill="#000" fill-opacity="0.70"/>
<rect x="489.00" y="279.50" width="1.00" height="13.50" fill="#000" fill-opacity="0.60"/>
<rect x="491.48" y="277.38" width="1.30" height="15.62" fill="#000" fill-opacity="0.50"/>
<rect x="480.00" y="293.00" width="1.00" height="20.00" fill="#000" fill-opacity="0.70"/>
<rect x="481.00" y="293.00" width="1.00" height="32.50" fill="#000" fill-opacity="0.60"/>
<rect x="482.00" y="293.00" width="1.00" height="25.00" fill="#000" fill-opacity="0.80"/>
<rect x="483.00" y="293.00" width="1.00" height="36.00" fill="#000" fill-opacity="0.90"/>
<rect x="484.00" y="293.00" width="1.00" height="11.25" fill="#000" fill-opacity="0.90"/>
<rect x="484.00" y="293.00" width="1.00" height="26.25" fill="#000" fill-opacity="0.60"/>
<rect x="488.10" y="293.00" width="1.30" height="17.50" fill="#000" fill-opacity="0.50"/>
<rect x="492.00" y="293.00" width="1.00" height="13.50" fill="#000" fill-opacity="0.60"/>
<rect x="494.35" y="293.00" width="1.30" height="23.12" fill="#000" fill-opacity="0.50"/>
<rect x="495.00" y="293.00" width="1.00" height="13.50" fill="#000" fill-opacity="0.90"/>
<rect x="380.00" y="293.00" width="1.00" height="10.00" fill="#000" fill-opacity="0.70"/>
<rect x="381.00" y="293.00" width="1.00" height="20.42" fill="#000" fill-opacity="0.85"/>
<rect x="382.00" y="293.00" width="1.00" height="10.83" fill="#000" fill-opacity="0.90"/>
<rect x="383.00" y="293.00" width="1.00" height="17.50" fill="#000" fill-opacity="0.80"/>
<rect x="384.00" y="293.00" width="1.00" height="21.67" fill="#000" fill-opacity="0.70"/>
<rect x="385.00" y="293.00" width="1.00" height="21.67" fill="#000" fill-opacity="0.90"/>
<rect x="385.00" y="293.00" width="1.00" height="26.25" fill="#000" fill-opacity="0.50"/>
<rect x="386.00" y="293.00" width="1.00" height="20.00" fill="#000" fill-opacity="0.90"/>
<rect x="387.00" y="293.00" width="1.00" height="5.83" fill="#000" fill-opacity="0.80"/>
<rect x="387.00" y="293.00" width="1.00" height="20.00" fill="#000" fill-opacity="0.30"/>
<rect x="390.00" y="293.00" width="1.00" height="27.08" fill="#000" fill-opacity="0.85"/>
<rect x="391.00" y="293.00" width="1.00" height="16.67" fill="#000" fill-opacity="0.90"/>
<rect x="392.00" y="293.00" width="1.00" height="13.33" fill="#000" fill-opacity="0.90"/>
<rect x="393.00" y="293.00" width="1.00" height="25.42" fill="#000" fill-opacity="0.80"/>
<rect x="394.00" y="293.00" width="1.00" height="20.00" fill="#000" fill-opacity="0.50"/>
<rect x="395.00" y="293.00" width="1.00" height="19.17" fill="#000" fill-opacity="0.50"/>
<rect x="396.00" y="293.00" width="1.00" height="22.50" fill="#000" fill-opacity="0.80"/>
<rect x="397.00" y="293.00" width="1.00" height="20.00" fill="#000" fill-opacity="1.00"/>
<rect x="398.00" y="293.00" width="1.00" height="23.33" fill="#000" fill-opacity="1.00"/>
<rect x="399.00" y="293.00" width="1.00" height="27.08" fill="#000" fill-opacity="1.00"/>
<rect x="400.00" y="293.00" width="1.00" height="22.50" fill="#000" fill-opacity="1.00"/>
<rect x="401.00" y="293.00" width="1.00" height="16.67" fill="#000" fill-opacity="1.00"/>
<rect x="402.00" y="293.00" width="1.00" height="27.08" fill="#000" fill-opacity="0.95"/>
<rect x="403.00" y="293.00" width="1.00" height="27.50" fill="#000" fill-opacity="0.95"/>
<rect x="404.00" y="293.00" width="1.00" height="21.67" fill="#000" fill-opacity="1.00"/>
<rect x="405.00" y="293.00" width="1.00" height="13.33" fill="#000" fill-opacity="0.70"/>
<rect x="406.00" y="293.00" width="1.00" height="13.33" fill="#000" fill-opacity="0.50"/>
<rect x="407.00" y="293.00" width="1.00" height="13.33" fill="#000" fill-opacity="0.70"/>
<rect x="408.00" y="293.00" width="1.00" height="20.42" fill="#000" fill-opacity="0.85"/>
<rect x="409.00" y="293.00" width="1.00" height="46.25" fill="#000" fill-opacity="0.77"/>
<rect x="413.00" y="293.00" width="1.00" height="19.17" fill="#000" fill-opacity="0.85"/>
<rect x="414.00" y="293.00" width="1.00" height="10.83" fill="#000" fill-opacity="0.90"/>
<rect x="415.18" y="293.00" width="1.30" height="23.75" fill="#000" fill-opacity="0.45"/>
<rect x="417.00" y="293.00" width="1.00" height="15.83" fill="#000" fill-opacity="0.85"/>
<rect x="418.00" y="293.00" width="1.00" height="11.67" fill="#000" fill-opacity="0.80"/>
<rect x="419.00" y="293.00" width="1.00" height="28.33" fill="#000" fill-opacity="0.95"/>
<rect x="420.00" y="293.00" width="1.00" height="20.00" fill="#000" fill-opacity="1.00"/>
<rect x="421.00" y="293.00" width="1.00" height="39.58" fill="#000" fill-opacity="0.85"/>
<rect x="422.00" y="293.00" width="1.00" height="15.83" fill="#000" fill-opacity="1.00"/>
<rect x="423.00" y="293.00" width="1.00" height="10.83" fill="#000" fill-opacity="0.80"/>
<rect x="423.00" y="293.00" width="1.00" height="15.00" fill="#000" fill-opacity="0.40"/>
<rect x="424.00" y="293.00" width="1.00" height="20.42" fill="#000" fill-opacity="0.90"/>
<rect x="427.00" y="293.00" width="1.00" height="17.50" fill="#000" fill-opacity="0.90"/>
<rect x="428.00" y="293.00" width="1.00" height="21.67" fill="#000" fill-opacity="0.90"/>
<rect x="429.00" y="293.00" width="1.00" height="15.00" fill="#000" fill-opacity="0.70"/>
<rect x="430.00" y="293.00" width="1.00" height="13.33" fill="#000" fill-opacity="0.50"/>
<rect x="431.00" y="293.00" width="1.00" height="13.33" fill="#000" fill-opacity="0.40"/>
<rect x="432.00" y="293.00" width="1.00" height="13.33" fill="#000" fill-opacity="0.85"/>
<rect x="433.00" y="293.00" width="1.00" height="24.58" fill="#000" fill-opacity="0.50"/>
<rect x="436.00" y="293.00" width="1.00" height="15.83" fill="#000" fill-opacity="0.90"/>
<rect x="436.00" y="293.00" width="1.00" height="20.42" fill="#000" fill-opacity="0.50"/>
<rect x="437.00" y="293.00" width="1.00" height="15.83" fill="#000" fill-opacity="0.90"/>
<rect x="438.00" y="293.00" width="1.00" height="14.17" fill="#000" fill-opacity="0.80"/>
<rect x="438.00" y="293.00" width="1.00" height="19.17" fill="#000" fill-opacity="0.80"/>
<rect x="439.00" y="293.00" width="1.00" height="15.00" fill="#000" fill-opacity="0.90"/>
<rect x="440.00" y="293.00" width="1.00" height="17.50" fill="#000" fill-opacity="0.80"/>
<rect x="441.00" y="293.00" width="1.00" height="27.08" fill="#000" fill-opacity="0.85"/>
<rect x="442.00" y="293.00" width="1.00" height="23.33" fill="#000" fill-opacity="0.90"/>
<rect x="443.00" y="293.00" width="1.00" height="25.00" fill="#000" fill-opacity="1.00"/>
<rect x="444.00" y="293.00" width="1.00" height="35.83" fill="#000" fill-opacity="0.95"/>
<rect x="445.00" y="293.00" width="1.00" height="28.33" fill="#000" fill-opacity="0.90"/>
<rect x="446.00" y="293.00" width="1.00" height="29.17" fill="#000" fill-opacity="0.60"/>
<rect x="447.00" y="293.00" width="1.00" height="21.67" fill="#000" fill-opacity="0.60"/>
<rect x="448.00" y="293.00" width="1.00" height="26.25" fill="#000" fill-opacity="0.90"/>
<rect x="449.00" y="293.00" width="1.00" height="20.00" fill="#000" fill-opacity="0.50"/>
<rect x="450.00" y="293.00" width="1.00" height="27.08" fill="#000" fill-opacity="0.90"/>
<rect x="451.00" y="293.00" width="1.00" height="16.67" fill="#000" fill-opacity="0.70"/>
<rect x="452.00" y="293.00" width="1.00" height="17.50" fill="#000" fill-opacity="0.60"/>
<rect x="453.00" y="293.00" width="1.00" height="32.50" fill="#000" fill-opacity="0.70"/>
<rect x="454.00" y="293.00" width="1.00" height="20.00" fill="#000" fill-opacity="0.80"/>
<rect x="456.00" y="293.00" width="1.00" height="15.83" fill="#000" fill-opacity="0.80"/>
<rect x="455.35" y="293.00" width="1.30" height="39.58" fill="#000" fill-opacity="0.50"/>
<rect x="457.00" y="293.00" width="1.00" height="10.00" fill="#000" fill-opacity="0.50"/>
<rect x="460.00" y="293.00" width="1.00" height="25.00" fill="#000" fill-opacity="0.95"/>
<rect x="461.00" y="293.00" width="1.00" height="19.17" fill="#000" fill-opacity="0.50"/>
<rect x="462.00" y="293.00" width="1.00" height="20.00" fill="#000" fill-opacity="0.60"/>
<rect x="463.00" y="293.00" width="1.00" height="21.67" fill="#000" fill-opacity="0.50"/>
<rect x="464.00" y="293.00" width="1.00" height="10.83" fill="#000" fill-opacity="0.70"/>
<rect x="465.00" y="293.00" width="1.00" height="17.50" fill="#000" fill-opacity="0.50"/>
<rect x="466.00" y="293.00" width="1.00" height="31.67" fill="#000" fill-opacity="0.90"/>
<rect x="467.00" y="293.00" width="1.00" height="14.17" fill="#000" fill-opacity="1.00"/>
<rect x="468.00" y="293.00" width="1.00" height="19.58" fill="#000" fill-opacity="0.90"/>
<rect x="470.00" y="293.00" width="1.00" height="6.25" fill="#000" fill-opacity="0.50"/>
<rect x="473.00" y="293.00" width="1.00" height="10.00" fill="#000" fill-opacity="0.70"/>
<rect x="474.00" y="293.00" width="1.00" height="16.67" fill="#000" fill-opacity="0.60"/>
<rect x="475.00" y="293.00" width="1.00" height="18.33" fill="#000" fill-opacity="1.00"/>
<rect x="476.00" y="293.00" width="1.00" height="25.42" fill="#000" fill-opacity="0.50"/>
<rect x="477.00" y="293.00" width="1.00" height="13.33" fill="#000" fill-opacity="0.90"/>
<rect x="478.00" y="293.00" width="1.00" height="13.33" fill="#000" fill-opacity="0.80"/>
<rect x="479.00" y="293.00" width="1.00" height="24.17" fill="#000" fill-opacity="0.60"/>
<rect x="506.00" y="279.33" width="1.00" height="13.67" fill="#000" fill-opacity="0.50"/>
<rect x="508.00" y="282.67" width="1.00" height="10.33" fill="#000" fill-opacity="0.50"/>
<rect x="511.00" y="271.00" width="1.00" height="22.00" fill="#000" fill-opacity="0.77"/>
<rect x="512.00" y="282.25" width="1.00" height="10.75" fill="#000" fill-opacity="0.50"/>
<rect x="513.00" y="283.50" width="1.00" height="9.50" fill="#000" fill-opacity="0.40"/>
<rect x="514.00" y="275.17" width="1.00" height="17.83" fill="#000" fill-opacity="0.70"/>
<rect x="515.00" y="277.67" width="1.00" height="15.33" fill="#000" fill-opacity="0.40"/>
<rect x="516.02" y="270.17" width="1.30" height="22.83" fill="#000" fill-opacity="0.50"/>
<rect x="519.00" y="273.92" width="1.00" height="19.08" fill="#000" fill-opacity="0.95"/>
<rect x="520.00" y="269.33" width="1.00" height="23.67" fill="#000" fill-opacity="0.90"/>
<rect x="521.00" y="271.83" width="1.00" height="21.17" fill="#000" fill-opacity="0.40"/>
<rect x="522.00" y="272.25" width="1.00" height="20.75" fill="#000" fill-opacity="0.50"/>
<rect x="524.00" y="278.50" width="1.00" height="14.50" fill="#000" fill-opacity="0.90"/>
<rect x="525.00" y="282.25" width="1.00" height="10.75" fill="#000" fill-opacity="0.90"/>
<rect x="525.00" y="271.00" width="1.00" height="22.00" fill="#000" fill-opacity="0.80"/>
<rect x="526.00" y="286.83" width="1.00" height="6.17" fill="#000" fill-opacity="0.80"/>
<rect x="527.00" y="287.25" width="1.00" height="5.75" fill="#000" fill-opacity="0.60"/>
<rect x="529.00" y="277.25" width="1.00" height="15.75" fill="#000" fill-opacity="0.85"/>
<rect x="530.00" y="282.25" width="1.00" height="10.75" fill="#000" fill-opacity="0.70"/>
<rect x="531.00" y="269.17" width="1.00" height="23.83" fill="#000" fill-opacity="0.85"/>
<rect x="532.00" y="287.67" width="1.00" height="5.33" fill="#000" fill-opacity="0.60"/>
<rect x="533.00" y="270.58" width="1.00" height="22.42" fill="#000" fill-opacity="0.95"/>
<rect x="534.00" y="265.17" width="1.00" height="27.83" fill="#000" fill-opacity="0.90"/>
<rect x="535.00" y="275.17" width="1.00" height="17.83" fill="#000" fill-opacity="0.70"/>
<rect x="536.00" y="267.25" width="1.00" height="25.75" fill="#000" fill-opacity="0.80"/>
<rect x="537.00" y="277.25" width="1.00" height="15.75" fill="#000" fill-opacity="0.40"/>
<rect x="538.00" y="277.25" width="1.00" height="15.75" fill="#000" fill-opacity="0.40"/>
<rect x="538.00" y="286.83" width="1.00" height="6.17" fill="#000" fill-opacity="0.80"/>
<rect x="539.00" y="264.33" width="1.00" height="28.67" fill="#000" fill-opacity="0.95"/>
<rect x="540.00" y="277.25" width="1.00" height="15.75" fill="#000" fill-opacity="0.90"/>
<rect x="541.00" y="271.00" width="1.00" height="22.00" fill="#000" fill-opacity="0.80"/>
<rect x="542.00" y="259.75" width="1.00" height="33.25" fill="#000" fill-opacity="0.50"/>
<rect x="542.00" y="271.00" width="1.00" height="22.00" fill="#000" fill-opacity="0.70"/>
<rect x="543.00" y="281.00" width="1.00" height="12.00" fill="#000" fill-opacity="0.95"/>
<rect x="543.00" y="282.67" width="1.00" height="10.33" fill="#000" fill-opacity="0.80"/>
<rect x="545.00" y="271.00" width="1.00" height="22.00" fill="#000" fill-opacity="0.30"/>
<rect x="546.00" y="261.42" width="1.00" height="31.58" fill="#000" fill-opacity="0.95"/>
<rect x="547.00" y="266.00" width="1.00" height="27.00" fill="#000" fill-opacity="1.00"/>
<rect x="547.00" y="245.00" width="1.00" height="48.00" fill="#000" fill-opacity="0.80"/>
<rect x="550.00" y="275.58" width="1.00" height="17.42" fill="#000" fill-opacity="0.80"/>
<rect x="551.00" y="275.58" width="1.00" height="17.42" fill="#000" fill-opacity="0.70"/>
<rect x="552.00" y="275.17" width="1.00" height="17.83" fill="#000" fill-opacity="0.80"/>
<rect x="553.00" y="261.42" width="1.00" height="31.58" fill="#000" fill-opacity="0.75"/>
<rect x="553.00" y="268.08" width="1.00" height="24.92" fill="#000" fill-opacity="0.95"/>
<rect x="554.00" y="280.17" width="1.00" height="12.83" fill="#000" fill-opacity="0.50"/>
<rect x="555.00" y="286.83" width="1.00" height="6.17" fill="#000" fill-opacity="0.80"/>
<rect x="556.00" y="259.75" width="1.00" height="33.25" fill="#000" fill-opacity="0.85"/>
<rect x="558.00" y="272.67" width="1.00" height="20.33" fill="#000" fill-opacity="0.50"/>
<rect x="558.00" y="282.67" width="1.00" height="10.33" fill="#000" fill-opacity="0.90"/>
<rect x="559.00" y="269.33" width="1.00" height="23.67" fill="#000" fill-opacity="0.50"/>
<rect x="559.00" y="286.83" width="1.00" height="6.17" fill="#000" fill-opacity="0.90"/>
<rect x="560.00" y="279.33" width="1.00" height="13.67" fill="#000" fill-opacity="0.50"/>
<rect x="561.00" y="286.83" width="1.00" height="6.17" fill="#000" fill-opacity="0.70"/>
<rect x="562.00" y="266.00" width="1.00" height="27.00" fill="#000" fill-opacity="0.90"/>
<rect x="563.00" y="267.67" width="1.00" height="25.33" fill="#000" fill-opacity="0.60"/>
<rect x="563.00" y="274.33" width="1.00" height="18.67" fill="#000" fill-opacity="0.95"/>
<rect x="565.00" y="276.83" width="1.00" height="16.17" fill="#000" fill-opacity="0.90"/>
<rect x="566.00" y="274.33" width="1.00" height="18.67" fill="#000" fill-opacity="0.80"/>
<rect x="567.00" y="282.67" width="1.00" height="10.33" fill="#000" fill-opacity="0.90"/>
<rect x="568.00" y="282.67" width="1.00" height="10.33" fill="#000" fill-opacity="0.80"/>
<rect x="568.00" y="274.33" width="1.00" height="18.67" fill="#000" fill-opacity="0.90"/>
<rect x="569.00" y="264.17" width="1.00" height="28.83" fill="#000" fill-opacity="0.90"/>
<rect x="570.00" y="274.33" width="1.00" height="18.67" fill="#000" fill-opacity="0.80"/>
<rect x="571.00" y="286.83" width="1.00" height="6.17" fill="#000" fill-opacity="0.90"/>
<rect x="572.00" y="268.08" width="1.00" height="24.92" fill="#000" fill-opacity="0.60"/>
<rect x="572.00" y="275.17" width="1.00" height="17.83" fill="#000" fill-opacity="0.95"/>
<rect x="573.00" y="272.67" width="1.00" height="20.33" fill="#000" fill-opacity="0.50"/>
<rect x="574.00" y="271.83" width="1.00" height="21.17" fill="#000" fill-opacity="0.40"/>
<rect x="575.00" y="271.42" width="1.00" height="21.58" fill="#000" fill-opacity="0.50"/>
<rect x="575.00" y="277.25" width="1.00" height="15.75" fill="#000" fill-opacity="0.80"/>
<rect x="576.00" y="269.33" width="1.00" height="23.67" fill="#000" fill-opacity="0.90"/>
<rect x="577.00" y="271.42" width="1.00" height="21.58" fill="#000" fill-opacity="0.95"/>
<rect x="578.00" y="281.00" width="1.00" height="12.00" fill="#000" fill-opacity="0.90"/>
<rect x="579.00" y="282.67" width="1.00" height="10.33" fill="#000" fill-opacity="0.80"/>
<rect x="579.00" y="272.67" width="1.00" height="20.33" fill="#000" fill-opacity="0.80"/>
<rect x="580.00" y="269.33" width="1.00" height="23.67" fill="#000" fill-opacity="0.50"/>
<rect x="580.00" y="276.83" width="1.00" height="16.17" fill="#000" fill-opacity="0.80"/>
<rect x="583.00" y="270.17" width="1.00" height="22.83" fill="#000" fill-opacity="0.80"/>
<rect x="586.00" y="256.67" width="1.00" height="36.33" fill="#000" fill-opacity="0.85"/>
<rect x="587.00" y="286.83" width="1.00" height="6.17" fill="#000" fill-opacity="0.80"/>
<rect x="588.00" y="282.67" width="1.00" height="10.33" fill="#000" fill-opacity="0.60"/>
<rect x="589.00" y="254.33" width="1.00" height="38.67" fill="#000" fill-opacity="0.50"/>
<rect x="589.00" y="266.83" width="1.00" height="26.17" fill="#000" fill-opacity="0.70"/>
<rect x="590.00" y="271.83" width="1.00" height="21.17" fill="#000" fill-opacity="0.95"/>
<rect x="590.00" y="277.67" width="1.00" height="15.33" fill="#000" fill-opacity="0.80"/>
<rect x="591.00" y="286.83" width="1.00" height="6.17" fill="#000" fill-opacity="0.70"/>
<rect x="592.00" y="267.67" width="1.00" height="25.33" fill="#000" fill-opacity="1.00"/>
<rect x="593.00" y="267.67" width="1.00" height="25.33" fill="#000" fill-opacity="1.00"/>
<rect x="594.00" y="282.67" width="1.00" height="10.33" fill="#000" fill-opacity="0.90"/>
<rect x="595.00" y="272.25" width="1.00" height="20.75" fill="#000" fill-opacity="1.00"/>
<rect x="596.00" y="276.83" width="1.00" height="16.17" fill="#000" fill-opacity="0.90"/>
<rect x="597.00" y="286.83" width="1.00" height="6.17" fill="#000" fill-opacity="0.80"/>
<rect x="598.00" y="279.33" width="1.00" height="13.67" fill="#000" fill-opacity="1.00"/>
<rect x="599.00" y="287.67" width="1.00" height="5.33" fill="#000" fill-opacity="0.60"/>
<rect x="600.00" y="272.25" width="1.00" height="20.75" fill="#000" fill-opacity="0.80"/>
<rect x="601.00" y="261.42" width="1.00" height="31.58" fill="#000" fill-opacity="0.60"/>
<rect x="601.00" y="270.17" width="1.00" height="22.83" fill="#000" fill-opacity="0.90"/>
<rect x="602.00" y="267.67" width="1.00" height="25.33" fill="#000" fill-opacity="0.90"/>
<rect x="603.00" y="286.83" width="1.00" height="6.17" fill="#000" fill-opacity="0.90"/>
<rect x="604.00" y="270.17" width="1.00" height="22.83" fill="#000" fill-opacity="0.30"/>
<rect x="606.00" y="286.83" width="1.00" height="6.17" fill="#000" fill-opacity="0.80"/>
<rect x="607.00" y="286.83" width="1.00" height="6.17" fill="#000" fill-opacity="0.70"/>
<rect x="607.00" y="270.17" width="1.00" height="22.83" fill="#000" fill-opacity="0.40"/>
<rect x="608.00" y="286.83" width="1.00" height="6.17" fill="#000" fill-opacity="0.80"/>
<rect x="610.00" y="282.67" width="1.00" height="10.33" fill="#000" fill-opacity="0.40"/>
<rect x="611.00" y="270.17" width="1.00" height="22.83" fill="#000" fill-opacity="0.90"/>
<rect x="612.00" y="266.00" width="1.00" height="27.00" fill="#000" fill-opacity="0.85"/>
<rect x="613.00" y="256.25" width="1.00" height="36.75" fill="#000" fill-opacity="0.85"/>
<rect x="614.00" y="271.00" width="1.00" height="22.00" fill="#000" fill-opacity="0.90"/>
<rect x="615.00" y="277.67" width="1.00" height="15.33" fill="#000" fill-opacity="0.70"/>
<rect x="616.00" y="273.92" width="1.00" height="19.08" fill="#000" fill-opacity="0.60"/>
<rect x="618.00" y="261.42" width="1.00" height="31.58" fill="#000" fill-opacity="0.40"/>
<rect x="618.00" y="275.17" width="1.00" height="17.83" fill="#000" fill-opacity="0.60"/>
<rect x="619.00" y="275.17" width="1.00" height="17.83" fill="#000" fill-opacity="0.50"/>
<rect x="620.00" y="275.58" width="1.00" height="17.42" fill="#000" fill-opacity="0.50"/>
<rect x="621.00" y="276.83" width="1.00" height="16.17" fill="#000" fill-opacity="0.90"/>
<rect x="622.00" y="262.25" width="1.00" height="30.75" fill="#000" fill-opacity="0.70"/>
<rect x="623.00" y="275.17" width="1.00" height="17.83" fill="#000" fill-opacity="0.80"/>
<rect x="624.00" y="256.42" width="1.00" height="36.58" fill="#000" fill-opacity="0.85"/>
<rect x="625.00" y="267.67" width="1.00" height="25.33" fill="#000" fill-opacity="0.90"/>
<rect x="626.00" y="267.67" width="1.00" height="25.33" fill="#000" fill-opacity="0.95"/>
<rect x="627.00" y="269.33" width="1.00" height="23.67" fill="#000" fill-opacity="0.90"/>
<rect x="628.00" y="269.33" width="1.00" height="23.67" fill="#000" fill-opacity="0.80"/>
<rect x="629.00" y="269.75" width="1.00" height="23.25" fill="#000" fill-opacity="0.90"/>
<rect x="630.00" y="279.33" width="1.00" height="13.67" fill="#000" fill-opacity="0.50"/>
<rect x="631.00" y="282.67" width="1.00" height="10.33" fill="#000" fill-opacity="0.50"/>
<rect x="633.00" y="274.33" width="1.00" height="18.67" fill="#000" fill-opacity="0.80"/>
<rect x="634.00" y="260.58" width="1.00" height="32.42" fill="#000" fill-opacity="0.80"/>
<rect x="635.00" y="282.67" width="1.00" height="10.33" fill="#000" fill-opacity="0.70"/>
<rect x="636.00" y="254.33" width="1.00" height="38.67" fill="#000" fill-opacity="0.70"/>
<rect x="637.00" y="259.33" width="1.00" height="33.67" fill="#000" fill-opacity="0.95"/>
<rect x="638.00" y="264.75" width="1.00" height="28.25" fill="#000" fill-opacity="0.90"/>
<rect x="639.00" y="269.33" width="1.00" height="23.67" fill="#000" fill-opacity="0.60"/>
<rect x="640.00" y="247.25" width="1.00" height="45.75" fill="#000" fill-opacity="0.50"/>
<rect x="640.00" y="266.42" width="1.00" height="26.58" fill="#000" fill-opacity="0.95"/>
<rect x="641.00" y="243.08" width="1.00" height="49.92" fill="#000" fill-opacity="0.85"/>
<rect x="643.00" y="271.42" width="1.00" height="21.58" fill="#000" fill-opacity="0.80"/>
<rect x="643.00" y="275.17" width="1.00" height="17.83" fill="#000" fill-opacity="0.95"/>
<rect x="645.00" y="252.67" width="1.00" height="40.33" fill="#000" fill-opacity="0.80"/>
<rect x="646.00" y="252.25" width="1.00" height="40.75" fill="#000" fill-opacity="0.90"/>
<rect x="647.00" y="269.33" width="1.00" height="23.67" fill="#000" fill-opacity="0.70"/>
<rect x="648.00" y="271.42" width="1.00" height="21.58" fill="#000" fill-opacity="0.60"/>
<rect x="648.00" y="274.33" width="1.00" height="18.67" fill="#000" fill-opacity="0.90"/>
<rect x="649.00" y="269.33" width="1.00" height="23.67" fill="#000" fill-opacity="0.80"/>
<rect x="650.00" y="267.67" width="1.00" height="25.33" fill="#000" fill-opacity="0.60"/>
<rect x="651.00" y="266.83" width="1.00" height="26.17" fill="#000" fill-opacity="0.70"/>
<rect x="652.00" y="268.08" width="1.00" height="24.92" fill="#000" fill-opacity="0.80"/>
<rect x="653.00" y="280.17" width="1.00" height="12.83" fill="#000" fill-opacity="0.70"/>
<rect x="654.00" y="267.67" width="1.00" height="25.33" fill="#000" fill-opacity="0.90"/>
<rect x="655.00" y="257.25" width="1.00" height="35.75" fill="#000" fill-opacity="0.85"/>
<rect x="656.00" y="268.08" width="1.00" height="24.92" fill="#000" fill-opacity="0.90"/>
<rect x="657.00" y="270.17" width="1.00" height="22.83" fill="#000" fill-opacity="0.60"/>
<rect x="658.00" y="270.17" width="1.00" height="22.83" fill="#000" fill-opacity="0.40"/>
<rect x="658.00" y="275.17" width="1.00" height="17.83" fill="#000" fill-opacity="0.90"/>
<rect x="659.00" y="286.83" width="1.00" height="6.17" fill="#000" fill-opacity="0.80"/>
<rect x="660.00" y="282.67" width="1.00" height="10.33" fill="#000" fill-opacity="0.60"/>
<rect x="661.00" y="273.92" width="1.00" height="19.08" fill="#000" fill-opacity="0.90"/>
<rect x="662.00" y="275.17" width="1.00" height="17.83" fill="#000" fill-opacity="0.70"/>
<rect x="664.00" y="274.33" width="1.00" height="18.67" fill="#000" fill-opacity="0.90"/>
<rect x="665.00" y="271.42" width="1.00" height="21.58" fill="#000" fill-opacity="0.90"/>
<rect x="666.00" y="253.50" width="1.00" height="39.50" fill="#000" fill-opacity="0.90"/>
<rect x="667.00" y="272.25" width="1.00" height="20.75" fill="#000" fill-opacity="0.70"/>
<rect x="668.00" y="264.33" width="1.00" height="28.67" fill="#000" fill-opacity="0.85"/>
<rect x="669.00" y="276.83" width="1.00" height="16.17" fill="#000" fill-opacity="0.80"/>
<rect x="670.00" y="266.42" width="1.00" height="26.58" fill="#000" fill-opacity="0.50"/>
<rect x="670.00" y="272.25" width="1.00" height="20.75" fill="#000" fill-opacity="0.80"/>
<rect x="671.00" y="272.25" width="1.00" height="20.75" fill="#000" fill-opacity="0.80"/>
<rect x="672.00" y="272.25" width="1.00" height="20.75" fill="#000" fill-opacity="0.80"/>
<rect x="673.00" y="264.75" width="1.00" height="28.25" fill="#000" fill-opacity="0.50"/>
<rect x="674.00" y="282.67" width="1.00" height="10.33" fill="#000" fill-opacity="0.20"/>
<rect x="675.00" y="269.33" width="1.00" height="23.67" fill="#000" fill-opacity="0.95"/>
<rect x="676.00" y="272.25" width="1.00" height="20.75" fill="#000" fill-opacity="0.90"/>
<rect x="677.00" y="271.42" width="1.00" height="21.58" fill="#000" fill-opacity="0.40"/>
<rect x="677.00" y="279.33" width="1.00" height="13.67" fill="#000" fill-opacity="0.85"/>
<rect x="678.00" y="271.42" width="1.00" height="21.58" fill="#000" fill-opacity="0.40"/>
<rect x="678.00" y="279.33" width="1.00" height="13.67" fill="#000" fill-opacity="0.85"/>
<rect x="679.00" y="259.33" width="1.00" height="33.67" fill="#000" fill-opacity="0.50"/>
<rect x="680.00" y="263.08" width="1.00" height="29.92" fill="#000" fill-opacity="0.95"/>
<rect x="681.00" y="282.67" width="1.00" height="10.33" fill="#000" fill-opacity="0.20"/>
<rect x="682.00" y="269.33" width="1.00" height="23.67" fill="#000" fill-opacity="0.95"/>
<rect x="683.00" y="277.67" width="1.00" height="15.33" fill="#000" fill-opacity="0.70"/>
<rect x="684.00" y="282.67" width="1.00" height="10.33" fill="#000" fill-opacity="0.90"/>
<rect x="685.00" y="266.00" width="1.00" height="27.00" fill="#000" fill-opacity="0.40"/>
<rect x="685.00" y="282.67" width="1.00" height="10.33" fill="#000" fill-opacity="0.90"/>
<rect x="686.00" y="262.25" width="1.00" height="30.75" fill="#000" fill-opacity="0.70"/>
<rect x="687.00" y="264.33" width="1.00" height="28.67" fill="#000" fill-opacity="0.95"/>
<rect x="688.00" y="266.83" width="1.00" height="26.17" fill="#000" fill-opacity="0.90"/>
<rect x="689.00" y="260.58" width="1.00" height="32.42" fill="#000" fill-opacity="0.70"/>
<rect x="690.00" y="266.83" width="1.00" height="26.17" fill="#000" fill-opacity="0.90"/>
<rect x="691.00" y="276.83" width="1.00" height="16.17" fill="#000" fill-opacity="0.90"/>
<rect x="692.00" y="277.67" width="1.00" height="15.33" fill="#000" fill-opacity="0.60"/>
<rect x="692.27" y="255.33" width="1.30" height="37.67" fill="#000" fill-opacity="0.45"/>
<rect x="694.00" y="264.33" width="1.00" height="28.67" fill="#000" fill-opacity="0.90"/>
<rect x="695.00" y="270.17" width="1.00" height="22.83" fill="#000" fill-opacity="0.80"/>
<rect x="697.00" y="266.00" width="1.00" height="27.00" fill="#000" fill-opacity="0.85"/>
<rect x="698.00" y="272.67" width="1.00" height="20.33" fill="#000" fill-opacity="0.50"/>
<rect x="699.00" y="274.33" width="1.00" height="18.67" fill="#000" fill-opacity="0.30"/>
<rect x="701.00" y="293.00" width="1.00" height="13.50" fill="#000" fill-opacity="0.80"/>
<rect x="718.35" y="293.00" width="1.30" height="15.62" fill="#000" fill-opacity="0.60"/>
<rect x="734.00" y="293.00" width="1.00" height="13.50" fill="#000" fill-opacity="0.60"/>
<rect x="739.00" y="293.00" width="1.00" height="6.25" fill="#000" fill-opacity="0.80"/>
<rect x="741.00" y="293.00" width="1.00" height="10.62" fill="#000" fill-opacity="0.80"/>
<rect x="743.00" y="293.00" width="1.00" height="20.62" fill="#000" fill-opacity="0.85"/>
<rect x="745.00" y="293.00" width="1.00" height="10.62" fill="#000" fill-opacity="0.85"/>
<rect x="748.00" y="293.00" width="1.00" height="15.62" fill="#000" fill-opacity="0.60"/>
<rect x="749.00" y="293.00" width="1.00" height="19.38" fill="#000" fill-opacity="0.60"/>
<rect x="758.00" y="293.00" width="1.00" height="10.62" fill="#000" fill-opacity="0.50"/>
<rect x="758.00" y="293.00" width="1.00" height="6.25" fill="#000" fill-opacity="0.50"/>
<rect x="768.00" y="293.00" width="1.00" height="10.62" fill="#000" fill-opacity="0.85"/>
<rect x="774.00" y="293.00" width="1.00" height="6.25" fill="#000" fill-opacity="0.60"/>
<rect x="776.00" y="293.00" width="1.00" height="13.50" fill="#000" fill-opacity="0.85"/>
<rect x="780.00" y="293.00" width="1.00" height="17.50" fill="#000" fill-opacity="0.65"/>
<rect x="796.00" y="293.00" width="1.00" height="13.50" fill="#000" fill-opacity="0.90"/>
<rect x="800.00" y="293.00" width="1.00" height="20.62" fill="#000" fill-opacity="0.70"/>
<rect x="810.23" y="293.00" width="1.30" height="13.50" fill="#000" fill-opacity="0.50"/>
<rect x="813.35" y="293.00" width="1.30" height="13.50" fill="#000" fill-opacity="0.50"/>
<rect x="822.00" y="293.00" width="1.00" height="10.62" fill="#000" fill-opacity="0.90"/>
<rect x="823.00" y="293.00" width="1.00" height="6.25" fill="#000" fill-opacity="0.90"/>
<rect x="825.00" y="293.00" width="1.00" height="10.62" fill="#000" fill-opacity="0.70"/>
<rect x="700.00" y="274.25" width="1.00" height="18.75" fill="#000" fill-opacity="0.70"/>
<rect x="701.00" y="259.50" width="1.00" height="33.50" fill="#000" fill-opacity="0.85"/>
<rect x="704.00" y="282.75" width="1.00" height="10.25" fill="#000" fill-opacity="0.50"/>
<rect x="706.00" y="286.75" width="1.00" height="6.25" fill="#000" fill-opacity="0.50"/>
<rect x="707.00" y="282.75" width="1.00" height="10.25" fill="#000" fill-opacity="0.85"/>
<rect x="708.00" y="286.75" width="1.00" height="6.25" fill="#000" fill-opacity="0.90"/>
<rect x="713.35" y="282.75" width="1.30" height="10.25" fill="#000" fill-opacity="0.40"/>
<rect x="718.00" y="275.50" width="1.00" height="17.50" fill="#000" fill-opacity="0.80"/>
<rect x="719.00" y="277.38" width="1.00" height="15.62" fill="#000" fill-opacity="0.70"/>
<rect x="720.00" y="282.75" width="1.00" height="10.25" fill="#000" fill-opacity="0.60"/>
<rect x="721.00" y="271.50" width="1.00" height="21.50" fill="#000" fill-opacity="0.85"/>
<rect x="722.00" y="286.75" width="1.00" height="6.25" fill="#000" fill-opacity="0.90"/>
<rect x="723.00" y="269.25" width="1.00" height="23.75" fill="#000" fill-opacity="0.90"/>
<rect x="724.00" y="282.75" width="1.00" height="10.25" fill="#000" fill-opacity="0.90"/>
<rect x="725.00" y="268.62" width="1.00" height="24.38" fill="#000" fill-opacity="0.70"/>
<rect x="726.00" y="272.38" width="1.00" height="20.62" fill="#000" fill-opacity="0.90"/>
<rect x="726.00" y="262.38" width="1.00" height="30.62" fill="#000" fill-opacity="0.60"/>
<rect x="727.00" y="282.75" width="1.00" height="10.25" fill="#000" fill-opacity="0.40"/>
<rect x="728.00" y="270.25" width="1.00" height="22.75" fill="#000" fill-opacity="0.50"/>
<rect x="729.00" y="277.38" width="1.00" height="15.62" fill="#000" fill-opacity="0.90"/>
<rect x="730.00" y="286.75" width="1.00" height="6.25" fill="#000" fill-opacity="0.90"/>
<rect x="730.00" y="270.25" width="1.00" height="22.75" fill="#000" fill-opacity="0.70"/>
<rect x="731.00" y="279.25" width="1.00" height="13.75" fill="#000" fill-opacity="0.95"/>
<rect x="732.00" y="263.00" width="1.00" height="30.00" fill="#000" fill-opacity="0.85"/>
<rect x="733.00" y="272.38" width="1.00" height="20.62" fill="#000" fill-opacity="0.90"/>
<rect x="738.00" y="260.50" width="1.00" height="32.50" fill="#000" fill-opacity="0.70"/>
<rect x="739.00" y="267.38" width="1.00" height="25.62" fill="#000" fill-opacity="0.95"/>
<rect x="739.00" y="279.25" width="1.00" height="13.75" fill="#000" fill-opacity="0.95"/>
<rect x="740.00" y="266.12" width="1.00" height="26.88" fill="#000" fill-opacity="0.95"/>
<rect x="741.00" y="275.50" width="1.00" height="17.50" fill="#000" fill-opacity="0.90"/>
<rect x="742.00" y="273.62" width="1.00" height="19.38" fill="#000" fill-opacity="0.95"/>
<rect x="743.00" y="286.75" width="1.00" height="6.25" fill="#000" fill-opacity="0.70"/>
<rect x="744.00" y="279.88" width="1.00" height="13.12" fill="#000" fill-opacity="0.80"/>
<rect x="745.00" y="274.00" width="1.00" height="19.00" fill="#000" fill-opacity="0.85"/>
<rect x="747.00" y="277.38" width="1.00" height="15.62" fill="#000" fill-opacity="0.80"/>
<rect x="748.00" y="279.88" width="1.00" height="13.12" fill="#000" fill-opacity="0.70"/>
<rect x="749.00" y="286.75" width="1.00" height="6.25" fill="#000" fill-opacity="0.30"/>
<rect x="750.00" y="271.50" width="1.00" height="21.50" fill="#000" fill-opacity="0.70"/>
<rect x="751.00" y="260.25" width="1.00" height="32.75" fill="#000" fill-opacity="0.90"/>
<rect x="752.00" y="272.38" width="1.00" height="20.62" fill="#000" fill-opacity="0.70"/>
<rect x="753.00" y="269.25" width="1.00" height="23.75" fill="#000" fill-opacity="0.60"/>
<rect x="753.00" y="277.38" width="1.00" height="15.62" fill="#000" fill-opacity="0.95"/>
<rect x="754.00" y="258.00" width="1.00" height="35.00" fill="#000" fill-opacity="0.55"/>
<rect x="755.00" y="282.75" width="1.00" height="10.25" fill="#000" fill-opacity="0.60"/>
<rect x="757.00" y="275.50" width="1.00" height="17.50" fill="#000" fill-opacity="0.90"/>
<rect x="758.00" y="286.75" width="1.00" height="6.25" fill="#000" fill-opacity="0.50"/>
<rect x="759.00" y="274.25" width="1.00" height="18.75" fill="#000" fill-opacity="0.80"/>
<rect x="760.00" y="279.25" width="1.00" height="13.75" fill="#000" fill-opacity="0.80"/>
<rect x="761.00" y="274.25" width="1.00" height="18.75" fill="#000" fill-opacity="0.70"/>
<rect x="762.00" y="271.50" width="1.00" height="21.50" fill="#000" fill-opacity="0.90"/>
<rect x="763.00" y="275.50" width="1.00" height="17.50" fill="#000" fill-opacity="0.85"/>
<rect x="764.00" y="279.88" width="1.00" height="13.12" fill="#000" fill-opacity="0.80"/>
<rect x="765.00" y="266.12" width="1.00" height="26.88" fill="#000" fill-opacity="0.85"/>
<rect x="766.00" y="282.75" width="1.00" height="10.25" fill="#000" fill-opacity="0.70"/>
<rect x="767.00" y="277.38" width="1.00" height="15.62" fill="#000" fill-opacity="0.85"/>
<rect x="768.00" y="255.12" width="1.00" height="37.88" fill="#000" fill-opacity="0.90"/>
<rect x="769.00" y="286.75" width="1.00" height="6.25" fill="#000" fill-opacity="0.60"/>
<rect x="770.00" y="269.25" width="1.00" height="23.75" fill="#000" fill-opacity="0.50"/>
<rect x="771.00" y="279.88" width="1.00" height="13.12" fill="#000" fill-opacity="0.60"/>
<rect x="772.00" y="275.50" width="1.00" height="17.50" fill="#000" fill-opacity="0.85"/>
<rect x="773.00" y="279.88" width="1.00" height="13.12" fill="#000" fill-opacity="0.50"/>
<rect x="774.00" y="286.75" width="1.00" height="6.25" fill="#000" fill-opacity="0.40"/>
<rect x="775.00" y="271.50" width="1.00" height="21.50" fill="#000" fill-opacity="0.85"/>
<rect x="776.00" y="277.38" width="1.00" height="15.62" fill="#000" fill-opacity="0.60"/>
<rect x="777.00" y="282.75" width="1.00" height="10.25" fill="#000" fill-opacity="0.60"/>
<rect x="778.00" y="286.75" width="1.00" height="6.25" fill="#000" fill-opacity="0.90"/>
<rect x="779.00" y="270.25" width="1.00" height="22.75" fill="#000" fill-opacity="0.90"/>
<rect x="780.00" y="286.75" width="1.00" height="6.25" fill="#000" fill-opacity="0.50"/>
<rect x="782.00" y="277.38" width="1.00" height="15.62" fill="#000" fill-opacity="0.40"/>
<rect x="783.00" y="258.25" width="1.00" height="34.75" fill="#000" fill-opacity="0.80"/>
<rect x="784.00" y="274.25" width="1.00" height="18.75" fill="#000" fill-opacity="0.90"/>
<rect x="788.00" y="279.88" width="1.00" height="13.12" fill="#000" fill-opacity="0.80"/>
<rect x="789.00" y="274.25" width="1.00" height="18.75" fill="#000" fill-opacity="0.90"/>
<rect x="790.00" y="250.50" width="1.00" height="42.50" fill="#000" fill-opacity="0.95"/>
<rect x="791.00" y="244.00" width="1.00" height="49.00" fill="#000" fill-opacity="0.60"/>
<rect x="791.00" y="260.50" width="1.00" height="32.50" fill="#000" fill-opacity="0.95"/>
<rect x="792.00" y="268.62" width="1.00" height="24.38" fill="#000" fill-opacity="0.90"/>
<rect x="795.00" y="286.75" width="1.00" height="6.25" fill="#000" fill-opacity="0.85"/>
<rect x="798.23" y="253.25" width="1.30" height="39.75" fill="#000" fill-opacity="0.55"/>
<rect x="798.00" y="272.38" width="1.00" height="20.62" fill="#000" fill-opacity="0.80"/>
<rect x="800.00" y="279.88" width="1.00" height="13.12" fill="#000" fill-opacity="0.80"/>
<rect x="801.00" y="277.38" width="1.00" height="15.62" fill="#000" fill-opacity="0.90"/>
<rect x="802.00" y="270.25" width="1.00" height="22.75" fill="#000" fill-opacity="0.85"/>
<rect x="803.00" y="286.75" width="1.00" height="6.25" fill="#000" fill-opacity="0.90"/>
<rect x="804.00" y="270.25" width="1.00" height="22.75" fill="#000" fill-opacity="0.80"/>
<rect x="805.00" y="268.62" width="1.00" height="24.38" fill="#000" fill-opacity="0.70"/>
<rect x="806.00" y="271.50" width="1.00" height="21.50" fill="#000" fill-opacity="0.90"/>
<rect x="807.00" y="272.38" width="1.00" height="20.62" fill="#000" fill-opacity="0.90"/>
<rect x="808.00" y="282.75" width="1.00" height="10.25" fill="#000" fill-opacity="0.60"/>
<rect x="810.00" y="271.50" width="1.00" height="21.50" fill="#000" fill-opacity="0.80"/>
<rect x="811.00" y="270.25" width="1.00" height="22.75" fill="#000" fill-opacity="0.95"/>
<rect x="812.00" y="254.00" width="1.00" height="39.00" fill="#000" fill-opacity="0.75"/>
<rect x="813.00" y="274.25" width="1.00" height="18.75" fill="#000" fill-opacity="0.95"/>
<rect x="814.00" y="271.50" width="1.00" height="21.50" fill="#000" fill-opacity="0.95"/>
<rect x="815.00" y="261.50" width="1.00" height="31.50" fill="#000" fill-opacity="0.50"/>
<rect x="816.00" y="279.88" width="1.00" height="13.12" fill="#000" fill-opacity="0.70"/>
<rect x="817.00" y="275.50" width="1.00" height="17.50" fill="#000" fill-opacity="0.90"/>
<rect x="817.48" y="260.50" width="1.30" height="32.50" fill="#000" fill-opacity="0.50"/>
<rect x="819.00" y="272.38" width="1.00" height="20.62" fill="#000" fill-opacity="0.80"/>
<rect x="820.00" y="268.00" width="1.00" height="25.00" fill="#000" fill-opacity="0.90"/>
<rect x="821.00" y="266.12" width="1.00" height="26.88" fill="#000" fill-opacity="0.95"/>
<rect x="822.00" y="267.38" width="1.00" height="25.62" fill="#000" fill-opacity="0.90"/>
<rect x="823.00" y="268.00" width="1.00" height="25.00" fill="#000" fill-opacity="0.80"/>
<rect x="824.00" y="268.62" width="1.00" height="24.38" fill="#000" fill-opacity="0.90"/>
<rect x="825.00" y="269.25" width="1.00" height="23.75" fill="#000" fill-opacity="0.95"/>
<rect x="826.00" y="277.38" width="1.00" height="15.62" fill="#000" fill-opacity="0.60"/>
<rect x="827.00" y="279.88" width="1.00" height="13.12" fill="#000" fill-opacity="0.30"/>
<rect x="829.35" y="254.88" width="1.30" height="38.12" fill="#000" fill-opacity="0.85"/>
<rect x="831.00" y="279.88" width="1.00" height="13.12" fill="#000" fill-opacity="0.90"/>
<rect x="833.00" y="272.38" width="1.00" height="20.62" fill="#000" fill-opacity="0.80"/>
<rect x="834.00" y="261.50" width="1.00" height="31.50" fill="#000" fill-opacity="0.60"/>
<rect x="834.00" y="268.00" width="1.00" height="25.00" fill="#000" fill-opacity="0.90"/>
<rect x="835.00" y="268.62" width="1.00" height="24.38" fill="#000" fill-opacity="0.95"/>
<rect x="836.00" y="270.25" width="1.00" height="22.75" fill="#000" fill-opacity="0.95"/>
<rect x="837.00" y="269.25" width="1.00" height="23.75" fill="#000" fill-opacity="0.90"/>
<rect x="838.00" y="277.38" width="1.00" height="15.62" fill="#000" fill-opacity="0.90"/>
<rect x="839.00" y="275.50" width="1.00" height="17.50" fill="#000" fill-opacity="0.80"/>
<rect x="840.00" y="267.38" width="1.00" height="25.62" fill="#000" fill-opacity="0.90"/>
<rect x="841.00" y="262.00" width="1.00" height="31.00" fill="#000" fill-opacity="0.50"/>
<rect x="841.00" y="267.38" width="1.00" height="25.62" fill="#000" fill-opacity="0.95"/>
<rect x="842.00" y="282.75" width="1.00" height="10.25" fill="#000" fill-opacity="0.90"/>
<rect x="843.00" y="286.75" width="1.00" height="6.25" fill="#000" fill-opacity="0.60"/>
<rect x="843.00" y="267.38" width="1.00" height="25.62" fill="#000" fill-opacity="0.90"/>
<rect x="844.00" y="263.62" width="1.00" height="29.38" fill="#000" fill-opacity="0.70"/>
<rect x="845.00" y="259.25" width="1.00" height="33.75" fill="#000" fill-opacity="0.50"/>
<rect x="845.00" y="265.50" width="1.00" height="27.50" fill="#000" fill-opacity="0.90"/>
<rect x="846.00" y="277.38" width="1.00" height="15.62" fill="#000" fill-opacity="0.80"/>
<rect x="847.00" y="265.50" width="1.00" height="27.50" fill="#000" fill-opacity="0.95"/>
<rect x="848.00" y="263.00" width="1.00" height="30.00" fill="#000" fill-opacity="0.50"/>
<rect x="848.00" y="275.50" width="1.00" height="17.50" fill="#000" fill-opacity="0.95"/>
<rect x="849.00" y="279.25" width="1.00" height="13.75" fill="#000" fill-opacity="0.90"/>
<rect x="851.00" y="286.75" width="1.00" height="6.25" fill="#000" fill-opacity="0.30"/>
<rect x="852.00" y="286.75" width="1.00" height="6.25" fill="#000" fill-opacity="0.30"/>
<rect x="853.00" y="282.75" width="1.00" height="10.25" fill="#000" fill-opacity="0.90"/>
<rect x="854.00" y="275.50" width="1.00" height="17.50" fill="#000" fill-opacity="0.85"/>
<rect x="856.00" y="274.00" width="1.00" height="19.00" fill="#000" fill-opacity="0.80"/>
<rect x="857.00" y="277.38" width="1.00" height="15.62" fill="#000" fill-opacity="0.95"/>
<rect x="858.00" y="277.38" width="1.00" height="15.62" fill="#000" fill-opacity="0.95"/>
<rect x="859.00" y="269.25" width="1.00" height="23.75" fill="#000" fill-opacity="0.60"/>
<rect x="859.00" y="279.88" width="1.00" height="13.12" fill="#000" fill-opacity="0.95"/>
<rect x="860.00" y="259.62" width="1.00" height="33.38" fill="#000" fill-opacity="0.85"/>
<rect x="861.00" y="282.75" width="1.00" height="10.25" fill="#000" fill-opacity="0.50"/>
<rect x="862.00" y="283.00" width="1.00" height="10.00" fill="#000" fill-opacity="0.50"/>
<rect x="863.00" y="274.00" width="1.00" height="19.00" fill="#000" fill-opacity="0.90"/>
<rect x="864.00" y="269.25" width="1.00" height="23.75" fill="#000" fill-opacity="0.70"/>
<rect x="865.00" y="261.50" width="1.00" height="31.50" fill="#000" fill-opacity="0.80"/>
<rect x="866.00" y="271.50" width="1.00" height="21.50" fill="#000" fill-opacity="0.70"/>
<rect x="867.00" y="255.12" width="1.00" height="37.88" fill="#000" fill-opacity="0.85"/>
<rect x="868.00" y="262.38" width="1.00" height="30.62" fill="#000" fill-opacity="0.90"/>
<rect x="869.00" y="279.25" width="1.00" height="13.75" fill="#000" fill-opacity="0.95"/>
<rect x="870.00" y="268.00" width="1.00" height="25.00" fill="#000" fill-opacity="0.80"/>
<rect x="872.00" y="266.12" width="1.00" height="26.88" fill="#000" fill-opacity="0.60"/>
<rect x="872.00" y="277.38" width="1.00" height="15.62" fill="#000" fill-opacity="0.95"/>
<rect x="873.00" y="265.50" width="1.00" height="27.50" fill="#000" fill-opacity="0.60"/>
<rect x="873.00" y="277.38" width="1.00" height="15.62" fill="#000" fill-opacity="0.90"/>
<rect x="874.00" y="279.88" width="1.00" height="13.12" fill="#000" fill-opacity="0.90"/>
<rect x="875.00" y="277.38" width="1.00" height="15.62" fill="#000" fill-opacity="0.90"/>
<rect x="876.00" y="272.38" width="1.00" height="20.62" fill="#000" fill-opacity="0.95"/>
<rect x="877.00" y="266.12" width="1.00" height="26.88" fill="#000" fill-opacity="0.90"/>
<rect x="878.00" y="259.25" width="1.00" height="33.75" fill="#000" fill-opacity="0.50"/>
<rect x="878.00" y="265.50" width="1.00" height="27.50" fill="#000" fill-opacity="0.95"/>
<rect x="879.00" y="277.38" width="1.00" height="15.62" fill="#000" fill-opacity="0.95"/>
<rect x="880.00" y="274.00" width="1.00" height="19.00" fill="#000" fill-opacity="0.85"/>
<rect x="881.00" y="282.75" width="1.00" height="10.25" fill="#000" fill-opacity="0.90"/>
<rect x="884.00" y="272.38" width="1.00" height="20.62" fill="#000" fill-opacity="0.90"/>
<rect x="885.00" y="282.75" width="1.00" height="10.25" fill="#000" fill-opacity="0.90"/>
<rect x="888.00" y="275.50" width="1.00" height="17.50" fill="#000" fill-opacity="0.90"/>
<rect x="889.00" y="271.50" width="1.00" height="21.50" fill="#000" fill-opacity="0.85"/>
<rect x="890.00" y="286.75" width="1.00" height="6.25" fill="#000" fill-opacity="0.60"/>
<rect x="891.00" y="282.75" width="1.00" height="10.25" fill="#000" fill-opacity="0.70"/>
<rect x="894.00" y="277.38" width="1.00" height="15.62" fill="#000" fill-opacity="0.70"/>
<rect x="895.00" y="286.75" width="1.00" height="6.25" fill="#000" fill-opacity="0.40"/>
<rect x="897.00" y="286.75" width="1.00" height="6.25" fill="#000" fill-opacity="0.30"/>
<rect x="899.00" y="269.25" width="1.00" height="23.75" fill="#000" fill-opacity="0.60"/>
<rect x="900.00" y="275.50" width="1.00" height="17.50" fill="#000" fill-opacity="0.90"/>
<rect x="901.00" y="279.50" width="1.00" height="13.50" fill="#000" fill-opacity="0.80"/>
<rect x="904.00" y="286.75" width="1.00" height="6.25" fill="#000" fill-opacity="0.40"/>
<rect x="907.00" y="279.88" width="1.00" height="13.12" fill="#000" fill-opacity="0.60"/>
<rect x="908.00" y="279.50" width="1.00" height="13.50" fill="#000" fill-opacity="0.70"/>
<rect x="936.00" y="282.75" width="1.00" height="10.25" fill="#000" fill-opacity="0.70"/>
<rect x="937.00" y="279.50" width="1.00" height="13.50" fill="#000" fill-opacity="0.70"/>
<rect x="938.00" y="286.75" width="1.00" height="6.25" fill="#000" fill-opacity="0.80"/>
<rect x="941.00" y="282.75" width="1.00" height="10.25" fill="#000" fill-opacity="0.72"/>
<rect x="944.00" y="277.38" width="1.00" height="15.62" fill="#000" fill-opacity="0.77"/>
<rect x="947.00" y="286.75" width="1.00" height="6.25" fill="#000" fill-opacity="0.85"/>
<rect x="950.35" y="286.75" width="1.30" height="6.25" fill="#000" fill-opacity="0.45"/>
<rect x="961.00" y="286.75" width="1.00" height="6.25" fill="#000" fill-opacity="0.55"/>
<rect x="976.00" y="286.75" width="1.00" height="6.25" fill="#000" fill-opacity="0.70"/>
<rect x="979.00" y="279.88" width="1.00" height="13.12" fill="#000" fill-opacity="0.30"/>
<rect x="831.00" y="293.00" width="1.00" height="6.25" fill="#000" fill-opacity="0.60"/>
<rect x="835.00" y="293.00" width="1.00" height="15.62" fill="#000" fill-opacity="0.77"/>
<rect x="839.00" y="293.00" width="1.00" height="10.62" fill="#000" fill-opacity="0.60"/>
<rect x="840.00" y="293.00" width="1.00" height="15.62" fill="#000" fill-opacity="0.50"/>
<rect x="841.00" y="293.00" width="1.00" height="19.38" fill="#000" fill-opacity="0.70"/>
<rect x="843.00" y="293.00" width="1.00" height="15.62" fill="#000" fill-opacity="0.72"/>
<rect x="845.00" y="293.00" width="1.00" height="17.50" fill="#000" fill-opacity="0.80"/>
<rect x="848.00" y="293.00" width="1.00" height="6.25" fill="#000" fill-opacity="0.50"/>
<rect x="849.00" y="293.00" width="1.00" height="17.50" fill="#000" fill-opacity="0.60"/>
<rect x="851.00" y="293.00" width="1.00" height="10.62" fill="#000" fill-opacity="0.50"/>
<rect x="852.00" y="293.00" width="1.00" height="10.62" fill="#000" fill-opacity="0.50"/>
<rect x="853.00" y="293.00" width="1.00" height="13.50" fill="#000" fill-opacity="0.70"/>
<rect x="854.00" y="293.00" width="1.00" height="26.25" fill="#000" fill-opacity="0.55"/>
<rect x="859.00" y="293.00" width="1.00" height="10.62" fill="#000" fill-opacity="0.90"/>
<rect x="860.00" y="293.00" width="1.00" height="21.88" fill="#000" fill-opacity="0.50"/>
<rect x="866.00" y="293.00" width="1.00" height="13.50" fill="#000" fill-opacity="0.60"/>
<rect x="872.00" y="293.00" width="1.00" height="6.25" fill="#000" fill-opacity="0.80"/>
<rect x="874.00" y="293.00" width="1.00" height="6.25" fill="#000" fill-opacity="0.50"/>
<rect x="878.00" y="293.00" width="1.00" height="13.50" fill="#000" fill-opacity="0.70"/>
<rect x="885.00" y="293.00" width="1.00" height="11.67" fill="#000" fill-opacity="0.90"/>
<rect x="885.00" y="293.00" width="1.00" height="24.17" fill="#000" fill-opacity="0.60"/>
<rect x="886.00" y="293.00" width="1.00" height="19.17" fill="#000" fill-opacity="0.80"/>
<rect x="887.00" y="293.00" width="1.00" height="11.67" fill="#000" fill-opacity="0.90"/>
<rect x="887.00" y="293.00" width="1.00" height="27.50" fill="#000" fill-opacity="0.60"/>
<rect x="888.00" y="293.00" width="1.00" height="21.67" fill="#000" fill-opacity="0.70"/>
<rect x="889.00" y="293.00" width="1.00" height="20.00" fill="#000" fill-opacity="0.70"/>
<rect x="890.00" y="293.00" width="1.00" height="20.00" fill="#000" fill-opacity="0.80"/>
<rect x="891.00" y="293.00" width="1.00" height="30.42" fill="#000" fill-opacity="0.90"/>
<rect x="892.00" y="293.00" width="1.00" height="15.00" fill="#000" fill-opacity="0.50"/>
<rect x="893.00" y="293.00" width="1.00" height="27.50" fill="#000" fill-opacity="0.85"/>
<rect x="894.00" y="293.00" width="1.00" height="22.50" fill="#000" fill-opacity="0.90"/>
<rect x="895.00" y="293.00" width="1.00" height="22.50" fill="#000" fill-opacity="0.50"/>
<rect x="896.00" y="293.00" width="1.00" height="17.50" fill="#000" fill-opacity="0.90"/>
<rect x="897.00" y="293.00" width="1.00" height="19.17" fill="#000" fill-opacity="0.40"/>
<rect x="898.00" y="293.00" width="1.00" height="11.67" fill="#000" fill-opacity="0.70"/>
<rect x="899.00" y="293.00" width="1.00" height="15.00" fill="#000" fill-opacity="0.60"/>
<rect x="900.00" y="293.00" width="1.00" height="15.83" fill="#000" fill-opacity="0.60"/>
<rect x="901.00" y="293.00" width="1.00" height="28.33" fill="#000" fill-opacity="0.95"/>
<rect x="902.00" y="293.00" width="1.00" height="19.17" fill="#000" fill-opacity="1.00"/>
<rect x="903.00" y="293.00" width="1.00" height="18.33" fill="#000" fill-opacity="1.00"/>
<rect x="904.00" y="293.00" width="1.00" height="32.50" fill="#000" fill-opacity="0.80"/>
<rect x="905.00" y="293.00" width="1.00" height="42.08" fill="#000" fill-opacity="0.60"/>
<rect x="907.00" y="293.00" width="1.00" height="18.33" fill="#000" fill-opacity="0.95"/>
<rect x="908.00" y="293.00" width="1.00" height="22.50" fill="#000" fill-opacity="0.90"/>
<rect x="908.00" y="293.00" width="1.00" height="38.33" fill="#000" fill-opacity="0.45"/>
<rect x="909.00" y="293.00" width="1.00" height="18.33" fill="#000" fill-opacity="0.95"/>
<rect x="910.00" y="293.00" width="1.00" height="36.67" fill="#000" fill-opacity="0.85"/>
<rect x="911.00" y="293.00" width="1.00" height="13.33" fill="#000" fill-opacity="0.90"/>
<rect x="912.00" y="293.00" width="1.00" height="33.75" fill="#000" fill-opacity="0.85"/>
<rect x="913.00" y="293.00" width="1.00" height="20.00" fill="#000" fill-opacity="0.90"/>
<rect x="914.00" y="293.00" width="1.00" height="15.00" fill="#000" fill-opacity="0.85"/>
<rect x="915.00" y="293.00" width="1.00" height="11.67" fill="#000" fill-opacity="0.20"/>
<rect x="916.00" y="293.00" width="1.00" height="32.50" fill="#000" fill-opacity="0.85"/>
<rect x="916.00" y="293.00" width="1.00" height="40.83" fill="#000" fill-opacity="0.50"/>
<rect x="917.00" y="293.00" width="1.00" height="33.33" fill="#000" fill-opacity="0.90"/>
<rect x="918.00" y="293.00" width="1.00" height="24.17" fill="#000" fill-opacity="0.95"/>
<rect x="919.00" y="293.00" width="1.00" height="15.00" fill="#000" fill-opacity="0.70"/>
<rect x="920.00" y="293.00" width="1.00" height="10.00" fill="#000" fill-opacity="0.50"/>
<rect x="921.00" y="293.00" width="1.00" height="10.00" fill="#000" fill-opacity="0.40"/>
<rect x="922.00" y="293.00" width="1.00" height="21.67" fill="#000" fill-opacity="0.95"/>
<rect x="923.00" y="293.00" width="1.00" height="10.00" fill="#000" fill-opacity="0.90"/>
<rect x="924.00" y="293.00" width="1.00" height="10.00" fill="#000" fill-opacity="0.90"/>
<rect x="928.00" y="293.00" width="1.00" height="13.33" fill="#000" fill-opacity="0.90"/>
<rect x="929.00" y="293.00" width="1.00" height="13.33" fill="#000" fill-opacity="0.95"/>
<rect x="929.00" y="293.00" width="1.00" height="30.42" fill="#000" fill-opacity="0.60"/>
<rect x="930.00" y="293.00" width="1.00" height="24.17" fill="#000" fill-opacity="0.80"/>
<rect x="931.00" y="293.00" width="1.00" height="22.50" fill="#000" fill-opacity="0.85"/>
<rect x="932.00" y="293.00" width="1.00" height="13.33" fill="#000" fill-opacity="0.95"/>
<rect x="934.00" y="293.00" width="1.00" height="29.17" fill="#000" fill-opacity="0.95"/>
<rect x="934.00" y="293.00" width="1.00" height="40.42" fill="#000" fill-opacity="0.50"/>
<rect x="935.00" y="293.00" width="1.00" height="12.50" fill="#000" fill-opacity="0.85"/>
<rect x="936.00" y="293.00" width="1.00" height="12.50" fill="#000" fill-opacity="0.80"/>
<rect x="937.00" y="293.00" width="1.00" height="10.83" fill="#000" fill-opacity="0.70"/>
<rect x="938.00" y="293.00" width="1.00" height="15.00" fill="#000" fill-opacity="0.80"/>
<rect x="938.00" y="293.00" width="1.00" height="20.00" fill="#000" fill-opacity="0.40"/>
<rect x="939.00" y="293.00" width="1.00" height="15.00" fill="#000" fill-opacity="0.90"/>
<rect x="940.00" y="293.00" width="1.00" height="24.58" fill="#000" fill-opacity="0.90"/>
<rect x="941.00" y="293.00" width="1.00" height="20.00" fill="#000" fill-opacity="0.90"/>
<rect x="942.00" y="293.00" width="1.00" height="17.50" fill="#000" fill-opacity="0.90"/>
<rect x="943.00" y="293.00" width="1.00" height="10.00" fill="#000" fill-opacity="0.80"/>
<rect x="943.00" y="293.00" width="1.00" height="21.67" fill="#000" fill-opacity="0.40"/>
<rect x="944.00" y="293.00" width="1.00" height="10.00" fill="#000" fill-opacity="0.80"/>
<rect x="944.00" y="293.00" width="1.00" height="15.00" fill="#000" fill-opacity="0.40"/>
<rect x="945.00" y="293.00" width="1.00" height="10.83" fill="#000" fill-opacity="0.85"/>
<rect x="946.00" y="293.00" width="1.00" height="15.00" fill="#000" fill-opacity="0.90"/>
<rect x="947.00" y="293.00" width="1.00" height="19.17" fill="#000" fill-opacity="0.90"/>
<rect x="948.00" y="293.00" width="1.00" height="28.33" fill="#000" fill-opacity="0.90"/>
<rect x="948.00" y="293.00" width="1.00" height="35.42" fill="#000" fill-opacity="0.50"/>
<rect x="949.00" y="293.00" width="1.00" height="28.33" fill="#000" fill-opacity="1.00"/>
<rect x="950.00" y="293.00" width="1.00" height="26.67" fill="#000" fill-opacity="1.00"/>
<rect x="951.00" y="293.00" width="1.00" height="20.83" fill="#000" fill-opacity="1.00"/>
<rect x="952.00" y="293.00" width="1.00" height="25.42" fill="#000" fill-opacity="0.90"/>
<rect x="954.00" y="293.00" width="1.00" height="15.00" fill="#000" fill-opacity="0.90"/>
<rect x="955.00" y="293.00" width="1.00" height="28.33" fill="#000" fill-opacity="0.90"/>
<rect x="955.00" y="293.00" width="1.00" height="32.50" fill="#000" fill-opacity="0.50"/>
<rect x="956.00" y="293.00" width="1.00" height="28.33" fill="#000" fill-opacity="0.90"/>
<rect x="957.00" y="293.00" width="1.00" height="19.17" fill="#000" fill-opacity="0.60"/>
<rect x="958.00" y="293.00" width="1.00" height="12.50" fill="#000" fill-opacity="0.70"/>
<rect x="959.00" y="293.00" width="1.00" height="20.42" fill="#000" fill-opacity="0.90"/>
<rect x="960.00" y="293.00" width="1.00" height="17.50" fill="#000" fill-opacity="0.90"/>
<rect x="961.00" y="293.00" width="1.00" height="5.83" fill="#000" fill-opacity="0.80"/>
<rect x="963.00" y="293.00" width="1.00" height="29.17" fill="#000" fill-opacity="0.95"/>
<rect x="964.00" y="293.00" width="1.00" height="32.50" fill="#000" fill-opacity="0.70"/>
<rect x="965.00" y="293.00" width="1.00" height="27.50" fill="#000" fill-opacity="0.90"/>
<rect x="966.00" y="293.00" width="1.00" height="24.17" fill="#000" fill-opacity="0.70"/>
<rect x="967.00" y="293.00" width="1.00" height="18.33" fill="#000" fill-opacity="0.90"/>
<rect x="968.00" y="293.00" width="1.00" height="19.17" fill="#000" fill-opacity="0.85"/>
<rect x="969.00" y="293.00" width="1.00" height="25.42" fill="#000" fill-opacity="0.90"/>
<rect x="969.00" y="293.00" width="1.00" height="39.58" fill="#000" fill-opacity="0.50"/>
<rect x="970.00" y="293.00" width="1.00" height="23.33" fill="#000" fill-opacity="0.90"/>
<rect x="972.00" y="293.00" width="1.00" height="17.50" fill="#000" fill-opacity="0.90"/>
<rect x="973.00" y="293.00" width="1.00" height="17.50" fill="#000" fill-opacity="0.90"/>
<rect x="974.00" y="293.00" width="1.00" height="10.83" fill="#000" fill-opacity="0.70"/>
<rect x="975.00" y="293.00" width="1.00" height="21.67" fill="#000" fill-opacity="0.90"/>
<rect x="976.00" y="293.00" width="1.00" height="23.75" fill="#000" fill-opacity="0.80"/>
<rect x="977.00" y="293.00" width="1.00" height="20.00" fill="#000" fill-opacity="0.60"/>
<rect x="978.00" y="293.00" width="1.00" height="26.67" fill="#000" fill-opacity="1.00"/>
<rect x="979.00" y="293.00" width="1.00" height="28.33" fill="#000" fill-opacity="0.80"/>
<rect x="980.00" y="293.00" width="1.00" height="13.33" fill="#000" fill-opacity="0.80"/>
<rect x="980.00" y="293.00" width="1.00" height="20.00" fill="#000" fill-opacity="0.40"/>
<rect x="981.00" y="293.00" width="1.00" height="5.83" fill="#000" fill-opacity="0.80"/>
<rect x="981.00" y="293.00" width="1.00" height="20.00" fill="#000" fill-opacity="0.40"/>
<rect x="982.00" y="293.00" width="1.00" height="11.67" fill="#000" fill-opacity="0.20"/>
<rect x="983.00" y="293.00" width="1.00" height="28.33" fill="#000" fill-opacity="0.90"/>
<rect x="983.00" y="293.00" width="1.00" height="33.33" fill="#000" fill-opacity="0.50"/>
<rect x="984.00" y="293.00" width="1.00" height="21.67" fill="#000" fill-opacity="0.90"/>
<rect x="985.00" y="293.00" width="1.00" height="19.17" fill="#000" fill-opacity="0.70"/>
<rect x="987.00" y="293.00" width="1.00" height="19.17" fill="#000" fill-opacity="0.90"/>
<rect x="988.00" y="293.00" width="1.00" height="21.67" fill="#000" fill-opacity="0.85"/>
<rect x="989.00" y="293.00" width="1.00" height="12.50" fill="#000" fill-opacity="0.70"/>
<rect x="990.00" y="293.00" width="1.00" height="11.67" fill="#000" fill-opacity="0.20"/>
<rect x="991.00" y="293.00" width="1.00" height="23.33" fill="#000" fill-opacity="0.60"/>
<rect x="992.00" y="293.00" width="1.00" height="20.00" fill="#000" fill-opacity="0.95"/>
<rect x="993.00" y="293.00" width="1.00" height="27.92" fill="#000" fill-opacity="0.85"/>
<rect x="994.00" y="293.00" width="1.00" height="5.83" fill="#000" fill-opacity="0.40"/>
<rect x="996.00" y="293.00" width="1.00" height="20.00" fill="#000" fill-opacity="1.00"/>
<rect x="997.00" y="293.00" width="1.00" height="32.50" fill="#000" fill-opacity="1.00"/>
<rect x="997.00" y="293.00" width="1.00" height="44.17" fill="#000" fill-opacity="0.60"/>
<rect x="998.00" y="293.00" width="1.00" height="40.00" fill="#000" fill-opacity="0.90"/>
<rect x="999.00" y="293.00" width="1.00" height="31.67" fill="#000" fill-opacity="0.95"/>
<rect x="1000.00" y="293.00" width="1.00" height="16.67" fill="#000" fill-opacity="0.90"/>
<rect x="1001.00" y="293.00" width="1.00" height="13.33" fill="#000" fill-opacity="0.70"/>
<rect x="1002.00" y="293.00" width="1.00" height="5.83" fill="#000" fill-opacity="0.50"/>
<rect x="1003.00" y="293.00" width="1.00" height="20.00" fill="#000" fill-opacity="0.80"/>
<rect x="1004.00" y="293.00" width="1.00" height="26.67" fill="#000" fill-opacity="0.80"/>
<rect x="1005.00" y="293.00" width="1.00" height="23.33" fill="#000" fill-opacity="0.80"/>
<rect x="1006.00" y="293.00" width="1.00" height="23.33" fill="#000" fill-opacity="0.90"/>
<rect x="1007.00" y="293.00" width="1.00" height="30.00" fill="#000" fill-opacity="0.60"/>
<rect x="1008.00" y="293.00" width="1.00" height="6.67" fill="#000" fill-opacity="0.70"/>
<rect x="1009.00" y="293.00" width="1.00" height="24.58" fill="#000" fill-opacity="0.50"/>
<rect x="1011.00" y="293.00" width="1.00" height="6.67" fill="#000" fill-opacity="0.60"/>
<rect x="1012.00" y="293.00" width="1.00" height="10.00" fill="#000" fill-opacity="0.70"/>
<rect x="1013.00" y="293.00" width="1.00" height="20.00" fill="#000" fill-opacity="1.00"/>
<rect x="1014.00" y="293.00" width="1.00" height="37.92" fill="#000" fill-opacity="0.90"/>
<rect x="1015.00" y="293.00" width="1.00" height="20.00" fill="#000" fill-opacity="0.70"/>
<rect x="1016.00" y="293.00" width="1.00" height="20.83" fill="#000" fill-opacity="0.70"/>
<rect x="1017.00" y="293.00" width="1.00" height="19.17" fill="#000" fill-opacity="0.95"/>
<rect x="1018.00" y="293.00" width="1.00" height="38.33" fill="#000" fill-opacity="0.90"/>
<rect x="1019.00" y="293.00" width="1.00" height="17.50" fill="#000" fill-opacity="0.90"/>
<rect x="1020.00" y="293.00" width="1.00" height="5.83" fill="#000" fill-opacity="0.50"/>
<rect x="1021.00" y="293.00" width="1.00" height="23.75" fill="#000" fill-opacity="0.85"/>
<rect x="1022.00" y="293.00" width="1.00" height="10.83" fill="#000" fill-opacity="0.90"/>
<rect x="1023.00" y="293.00" width="1.00" height="21.67" fill="#000" fill-opacity="0.90"/>
<rect x="1024.00" y="293.00" width="1.00" height="23.33" fill="#000" fill-opacity="0.85"/>
<rect x="1025.00" y="293.00" width="1.00" height="25.42" fill="#000" fill-opacity="0.50"/>
<rect x="1026.00" y="293.00" width="1.00" height="23.33" fill="#000" fill-opacity="0.50"/>
<rect x="1027.00" y="293.00" width="1.00" height="31.67" fill="#000" fill-opacity="0.85"/>
<rect x="1028.00" y="293.00" width="1.00" height="5.83" fill="#000" fill-opacity="0.50"/>
<rect x="1029.00" y="293.00" width="1.00" height="17.50" fill="#000" fill-opacity="0.95"/>
<rect x="1030.00" y="293.00" width="1.00" height="38.33" fill="#000" fill-opacity="0.80"/>
<rect x="1031.00" y="293.00" width="1.00" height="24.58" fill="#000" fill-opacity="0.70"/>
<rect x="1032.00" y="293.00" width="1.00" height="22.50" fill="#000" fill-opacity="0.80"/>
<rect x="1033.00" y="293.00" width="1.00" height="15.83" fill="#000" fill-opacity="0.95"/>
<rect x="1034.00" y="293.00" width="1.00" height="35.00" fill="#000" fill-opacity="0.70"/>
<rect x="1035.00" y="293.00" width="1.00" height="20.00" fill="#000" fill-opacity="0.40"/>
<rect x="1036.00" y="293.00" width="1.00" height="21.67" fill="#000" fill-opacity="0.90"/>
<rect x="1037.00" y="293.00" width="1.00" height="20.83" fill="#000" fill-opacity="0.60"/>
<rect x="1038.00" y="293.00" width="1.00" height="28.33" fill="#000" fill-opacity="0.85"/>
<rect x="1039.00" y="293.00" width="1.00" height="10.83" fill="#000" fill-opacity="0.80"/>
<rect x="1039.00" y="293.00" width="1.00" height="20.00" fill="#000" fill-opacity="0.40"/>
<rect x="1040.00" y="293.00" width="1.00" height="20.00" fill="#000" fill-opacity="0.30"/>
<rect x="1042.00" y="293.00" width="1.00" height="19.17" fill="#000" fill-opacity="0.80"/>
<rect x="1043.00" y="293.00" width="1.00" height="5.83" fill="#000" fill-opacity="0.70"/>
<rect x="1045.00" y="293.00" width="1.00" height="15.83" fill="#000" fill-opacity="0.90"/>
<rect x="1046.00" y="293.00" width="1.00" height="19.17" fill="#000" fill-opacity="0.60"/>
<rect x="1047.00" y="293.00" width="1.00" height="25.83" fill="#000" fill-opacity="0.90"/>
<rect x="1047.00" y="293.00" width="1.00" height="37.92" fill="#000" fill-opacity="0.50"/>
<rect x="1048.00" y="293.00" width="1.00" height="26.67" fill="#000" fill-opacity="1.00"/>
<rect x="1049.00" y="293.00" width="1.00" height="25.00" fill="#000" fill-opacity="1.00"/>
<rect x="1050.00" y="293.00" width="1.00" height="24.17" fill="#000" fill-opacity="1.00"/>
<rect x="1051.00" y="293.00" width="1.00" height="10.00" fill="#000" fill-opacity="0.80"/>
<rect x="1053.00" y="293.00" width="1.00" height="24.58" fill="#000" fill-opacity="0.90"/>
<rect x="1054.00" y="293.00" width="1.00" height="10.00" fill="#000" fill-opacity="0.80"/>
<rect x="1056.00" y="293.00" width="1.00" height="21.67" fill="#000" fill-opacity="0.70"/>
<rect x="1057.00" y="293.00" width="1.00" height="22.92" fill="#000" fill-opacity="0.90"/>
<rect x="1058.00" y="293.00" width="1.00" height="15.83" fill="#000" fill-opacity="0.80"/>
<rect x="1061.00" y="293.00" width="1.00" height="21.67" fill="#000" fill-opacity="0.50"/>
<rect x="1062.00" y="293.00" width="1.00" height="20.00" fill="#000" fill-opacity="0.70"/>
<rect x="1063.00" y="293.00" width="1.00" height="19.17" fill="#000" fill-opacity="0.80"/>
<rect x="1063.00" y="293.00" width="1.00" height="24.58" fill="#000" fill-opacity="0.50"/>
<rect x="1064.00" y="293.00" width="1.00" height="10.00" fill="#000" fill-opacity="0.30"/>
<rect x="1067.00" y="293.00" width="1.00" height="25.83" fill="#000" fill-opacity="0.85"/>
<rect x="1068.00" y="293.00" width="1.00" height="13.33" fill="#000" fill-opacity="0.90"/>
<rect x="1069.00" y="293.00" width="1.00" height="11.67" fill="#000" fill-opacity="0.20"/>
<rect x="1070.00" y="293.00" width="1.00" height="21.67" fill="#000" fill-opacity="0.60"/>
<rect x="1071.00" y="293.00" width="1.00" height="13.33" fill="#000" fill-opacity="0.85"/>
<rect x="1072.00" y="293.00" width="1.00" height="26.67" fill="#000" fill-opacity="0.70"/>
<rect x="1073.00" y="293.00" width="1.00" height="12.50" fill="#000" fill-opacity="0.90"/>
<rect x="1074.00" y="293.00" width="1.00" height="42.92" fill="#000" fill-opacity="0.85"/>
<rect x="1075.00" y="293.00" width="1.00" height="28.33" fill="#000" fill-opacity="1.00"/>
<rect x="1076.00" y="293.00" width="1.00" height="49.58" fill="#000" fill-opacity="0.85"/>
<rect x="1077.00" y="293.00" width="1.00" height="15.83" fill="#000" fill-opacity="0.90"/>
<rect x="1078.00" y="293.00" width="1.00" height="19.17" fill="#000" fill-opacity="0.70"/>
<rect x="1079.00" y="293.00" width="1.00" height="15.00" fill="#000" fill-opacity="0.70"/>
<rect x="980.00" y="289.67" width="1.00" height="3.33" fill="#000" fill-opacity="0.90"/>
<rect x="1007.00" y="286.75" width="1.00" height="6.25" fill="#000" fill-opacity="0.70"/>
<rect x="1021.00" y="275.50" width="1.00" height="17.50" fill="#000" fill-opacity="0.65"/>
<rect x="1024.00" y="282.75" width="1.00" height="10.25" fill="#000" fill-opacity="0.77"/>
<rect x="1030.00" y="286.75" width="1.00" height="6.25" fill="#000" fill-opacity="0.50"/>
<rect x="1031.00" y="275.50" width="1.00" height="17.50" fill="#000" fill-opacity="0.80"/>
<rect x="1032.00" y="282.75" width="1.00" height="10.25" fill="#000" fill-opacity="0.70"/>
<rect x="1033.00" y="282.75" width="1.00" height="10.25" fill="#000" fill-opacity="0.50"/>
<rect x="1042.00" y="286.75" width="1.00" height="6.25" fill="#000" fill-opacity="0.70"/>
<rect x="1049.00" y="272.38" width="1.00" height="20.62" fill="#000" fill-opacity="0.60"/>
<rect x="1050.00" y="286.75" width="1.00" height="6.25" fill="#000" fill-opacity="0.80"/>
<rect x="1051.00" y="286.75" width="1.00" height="6.25" fill="#000" fill-opacity="0.60"/>
<rect x="1052.00" y="273.62" width="1.00" height="19.38" fill="#000" fill-opacity="0.55"/>
<rect x="1056.00" y="282.75" width="1.00" height="10.25" fill="#000" fill-opacity="0.85"/>
<rect x="1065.22" y="274.00" width="1.30" height="19.00" fill="#000" fill-opacity="0.50"/>
<rect x="1067.00" y="286.75" width="1.00" height="6.25" fill="#000" fill-opacity="0.50"/>
<rect x="1068.00" y="286.75" width="1.00" height="6.25" fill="#000" fill-opacity="0.50"/>
<rect x="1070.00" y="275.50" width="1.00" height="17.50" fill="#000" fill-opacity="0.70"/>
<rect x="1077.00" y="282.75" width="1.00" height="10.25" fill="#000" fill-opacity="0.70"/>
<rect x="1078.00" y="286.75" width="1.00" height="6.25" fill="#000" fill-opacity="0.80"/>
<rect x="1084.00" y="279.50" width="1.00" height="13.50" fill="#000" fill-opacity="0.85"/>
<rect x="1085.00" y="286.75" width="1.00" height="6.25" fill="#000" fill-opacity="0.60"/>
<rect x="1087.00" y="286.75" width="1.00" height="6.25" fill="#000" fill-opacity="0.85"/>
<rect x="1091.00" y="282.75" width="1.00" height="10.25" fill="#000" fill-opacity="0.60"/>
<rect x="1091.00" y="282.75" width="1.00" height="10.25" fill="#000" fill-opacity="0.50"/>
<rect x="1093.00" y="275.50" width="1.00" height="17.50" fill="#000" fill-opacity="0.90"/>
<rect x="1099.00" y="286.75" width="1.00" height="6.25" fill="#000" fill-opacity="0.90"/>
<rect x="1102.22" y="279.50" width="1.30" height="13.50" fill="#000" fill-opacity="0.50"/>
<rect x="1107.00" y="286.75" width="1.00" height="6.25" fill="#000" fill-opacity="0.70"/>
<rect x="1116.00" y="286.75" width="1.00" height="6.25" fill="#000" fill-opacity="0.70"/>
<rect x="1119.00" y="279.25" width="1.00" height="13.75" fill="#000" fill-opacity="0.90"/>
<rect x="1120.00" y="270.25" width="1.00" height="22.75" fill="#000" fill-opacity="0.90"/>
<rect x="1121.00" y="277.38" width="1.00" height="15.62" fill="#000" fill-opacity="0.95"/>
<rect x="1122.00" y="279.88" width="1.00" height="13.12" fill="#000" fill-opacity="0.95"/>
<rect x="1129.00" y="286.75" width="1.00" height="6.25" fill="#000" fill-opacity="0.90"/>
<rect x="1130.00" y="275.50" width="1.00" height="17.50" fill="#000" fill-opacity="0.90"/>
<rect x="1132.00" y="277.38" width="1.00" height="15.62" fill="#000" fill-opacity="0.50"/>
<rect x="1135.00" y="286.75" width="1.00" height="6.25" fill="#000" fill-opacity="0.70"/>
<rect x="1080.00" y="293.00" width="1.00" height="15.62" fill="#000" fill-opacity="0.90"/>
<rect x="1081.00" y="293.00" width="1.00" height="23.75" fill="#000" fill-opacity="0.60"/>
<rect x="1082.00" y="293.00" width="1.00" height="28.12" fill="#000" fill-opacity="0.60"/>
<rect x="1083.00" y="293.00" width="1.00" height="17.50" fill="#000" fill-opacity="0.80"/>
<rect x="1084.00" y="293.00" width="1.00" height="42.50" fill="#000" fill-opacity="0.70"/>
<rect x="1085.00" y="293.00" width="1.00" height="26.25" fill="#000" fill-opacity="0.90"/>
<rect x="1086.00" y="293.00" width="1.00" height="15.62" fill="#000" fill-opacity="0.95"/>
<rect x="1087.00" y="293.00" width="1.00" height="11.25" fill="#000" fill-opacity="0.95"/>
<rect x="1088.00" y="293.00" width="1.00" height="25.00" fill="#000" fill-opacity="0.90"/>
<rect x="1089.00" y="293.00" width="1.00" height="30.00" fill="#000" fill-opacity="0.70"/>
<rect x="1090.00" y="293.00" width="1.00" height="23.12" fill="#000" fill-opacity="0.90"/>
<rect x="1091.00" y="293.00" width="1.00" height="32.50" fill="#000" fill-opacity="0.70"/>
<rect x="1092.00" y="293.00" width="1.00" height="17.50" fill="#000" fill-opacity="0.90"/>
<rect x="1093.00" y="293.00" width="1.00" height="25.00" fill="#000" fill-opacity="0.50"/>
<rect x="1094.00" y="293.00" width="1.00" height="15.62" fill="#000" fill-opacity="0.60"/>
<rect x="1095.00" y="293.00" width="1.00" height="6.25" fill="#000" fill-opacity="0.40"/>
<rect x="1096.00" y="293.00" width="1.00" height="30.00" fill="#000" fill-opacity="0.85"/>
<rect x="1097.00" y="293.00" width="1.00" height="27.50" fill="#000" fill-opacity="0.85"/>
<rect x="1098.00" y="293.00" width="1.00" height="25.00" fill="#000" fill-opacity="0.90"/>
<rect x="1099.00" y="293.00" width="1.00" height="38.12" fill="#000" fill-opacity="0.60"/>
<rect x="1100.00" y="293.00" width="1.00" height="27.50" fill="#000" fill-opacity="0.70"/>
<rect x="1101.00" y="293.00" width="1.00" height="22.50" fill="#000" fill-opacity="0.90"/>
<rect x="1102.00" y="293.00" width="1.00" height="37.50" fill="#000" fill-opacity="0.80"/>
<rect x="1103.00" y="293.00" width="1.00" height="28.75" fill="#000" fill-opacity="0.95"/>
<rect x="1104.00" y="293.00" width="1.00" height="6.25" fill="#000" fill-opacity="0.50"/>
<rect x="1105.00" y="293.00" width="1.00" height="20.00" fill="#000" fill-opacity="0.95"/>
<rect x="1106.00" y="293.00" width="1.00" height="23.75" fill="#000" fill-opacity="0.95"/>
<rect x="1107.00" y="293.00" width="1.00" height="25.00" fill="#000" fill-opacity="0.90"/>
<rect x="1108.00" y="293.00" width="1.00" height="36.25" fill="#000" fill-opacity="0.60"/>
<rect x="1109.00" y="293.00" width="1.00" height="39.38" fill="#000" fill-opacity="0.70"/>
<rect x="1110.00" y="293.00" width="1.00" height="46.25" fill="#000" fill-opacity="0.85"/>
<rect x="1111.00" y="293.00" width="1.00" height="36.25" fill="#000" fill-opacity="0.70"/>
<rect x="1112.00" y="293.00" width="1.00" height="25.00" fill="#000" fill-opacity="0.90"/>
<rect x="1113.00" y="293.00" width="1.00" height="6.25" fill="#000" fill-opacity="0.90"/>
<rect x="1114.00" y="293.00" width="1.00" height="10.62" fill="#000" fill-opacity="0.50"/>
<rect x="1116.00" y="293.00" width="1.00" height="32.50" fill="#000" fill-opacity="0.85"/>
<rect x="1117.00" y="293.00" width="1.00" height="35.62" fill="#000" fill-opacity="0.95"/>
<rect x="1118.00" y="293.00" width="1.00" height="6.25" fill="#000" fill-opacity="0.80"/>
<rect x="1119.00" y="293.00" width="1.00" height="19.38" fill="#000" fill-opacity="0.70"/>
<rect x="1120.00" y="293.00" width="1.00" height="13.75" fill="#000" fill-opacity="0.90"/>
<rect x="1121.00" y="293.00" width="1.00" height="17.50" fill="#000" fill-opacity="0.70"/>
<rect x="1122.00" y="293.00" width="1.00" height="6.25" fill="#000" fill-opacity="0.80"/>
<rect x="1123.00" y="293.00" width="1.00" height="15.62" fill="#000" fill-opacity="0.90"/>
<rect x="1124.00" y="293.00" width="1.00" height="23.12" fill="#000" fill-opacity="0.85"/>
<rect x="1125.00" y="293.00" width="1.00" height="10.62" fill="#000" fill-opacity="0.80"/>
<rect x="1126.00" y="293.00" width="1.00" height="10.62" fill="#000" fill-opacity="0.80"/>
<rect x="1127.00" y="293.00" width="1.00" height="10.62" fill="#000" fill-opacity="0.80"/>
<rect x="1134.00" y="293.00" width="1.00" height="6.25" fill="#000" fill-opacity="0.70"/>
<rect x="1135.00" y="293.00" width="1.00" height="18.75" fill="#000" fill-opacity="0.85"/>
<rect x="1135.00" y="293.00" width="1.00" height="33.50" fill="#000" fill-opacity="0.60"/>
<rect x="1136.00" y="293.00" width="1.00" height="10.62" fill="#000" fill-opacity="0.90"/>
<rect x="81.3" y="292.1" width="1056.5" height="1.7" fill="#3a3a3a"/>
<rect x="522.65" y="243" width="1.3" height="50" fill="#ff1414" fill-opacity="0.8"/>
<rect x="695.35" y="243" width="1.3" height="50" fill="#ff1414" fill-opacity="0.8"/>
<text transform="translate(610,423) scale(1,1.075)" font-size="9.2" fill="#000" text-anchor="middle" font-weight="bold" letter-spacing="0.38">Annotations</text>
<g stroke="#1414ff" stroke-width="1.0" fill="none" stroke-opacity="1.0" stroke-linecap="butt"><line x1="113" y1="453.5" x2="166.3" y2="453.5"/><polyline points="159.9,449.9 166.3,453.5 159.9,457.1"/></g>
<text transform="translate(140,450.3) scale(1,1.15)" font-size="7.3" fill="#1414ff" stroke="#1414ff" stroke-width="0.22" text-anchor="middle" font-weight="normal" letter-spacing="0.12" xml:space="preserve">gene YGR<tspan font-size="7.0" letter-spacing="0.27">195</tspan>W</text>
<g stroke="#1414ff" stroke-width="1.0" fill="none" stroke-opacity="1.0" stroke-linecap="butt"><line x1="346.7" y1="464.0" x2="173.7" y2="464.0"/><polyline points="180.1,460.4 173.7,464.0 180.1,467.6"/></g>
<text transform="translate(260,460.8) scale(1,1.15)" font-size="7.3" fill="#1414ff" stroke="#1414ff" stroke-width="0.22" text-anchor="middle" font-weight="normal" letter-spacing="0.12" xml:space="preserve">gene YGR<tspan font-size="7.0" letter-spacing="0.27">196</tspan>C</text>
<g stroke="#1414ff" stroke-width="1.0" fill="none" stroke-opacity="1.0" stroke-linecap="butt"><line x1="484.5" y1="464.0" x2="368.2" y2="464.0"/><polyline points="374.59999999999997,460.4 368.2,464.0 374.59999999999997,467.6"/></g>
<text transform="translate(426.3,460.8) scale(1,1.15)" font-size="7.3" fill="#1414ff" stroke="#1414ff" stroke-width="0.22" text-anchor="middle" font-weight="normal" letter-spacing="0.12" xml:space="preserve">gene YGR<tspan font-size="7.0" letter-spacing="0.27">197</tspan>C</text>
<g stroke="#1414ff" stroke-width="1.0" fill="none" stroke-opacity="1.0" stroke-linecap="butt"><line x1="523" y1="453.5" x2="696.3" y2="453.5"/><polyline points="689.9,449.9 696.3,453.5 689.9,457.1"/></g>
<text transform="translate(610,450.3) scale(1,1.15)" font-size="7.3" fill="#1414ff" stroke="#1414ff" stroke-width="0.22" text-anchor="middle" font-weight="normal" letter-spacing="0.12" xml:space="preserve">gene YGR<tspan font-size="7.0" letter-spacing="0.27">198</tspan>W</text>
<g stroke="#1414ff" stroke-width="1.0" fill="none" stroke-opacity="1.0" stroke-linecap="butt"><line x1="721" y1="453.5" x2="882" y2="453.5"/><polyline points="875.6,449.9 882,453.5 875.6,457.1"/></g>
<text transform="translate(800.8,450.3) scale(1,1.15)" font-size="7.3" fill="#1414ff" stroke="#1414ff" stroke-width="0.22" text-anchor="middle" font-weight="normal" letter-spacing="0.12" xml:space="preserve">gene YGR<tspan font-size="7.0" letter-spacing="0.27">199</tspan>W</text>
<g stroke="#1414ff" stroke-width="1.0" fill="none" stroke-opacity="1.0" stroke-linecap="butt"><line x1="1057" y1="464.0" x2="890" y2="464.0"/><polyline points="896.4,460.4 890,464.0 896.4,467.6"/></g>
<text transform="translate(973,460.8) scale(1,1.15)" font-size="7.3" fill="#1414ff" stroke="#1414ff" stroke-width="0.22" text-anchor="middle" font-weight="normal" letter-spacing="0.12" xml:space="preserve">gene YGR<tspan font-size="7.0" letter-spacing="0.27">200</tspan>C</text>
<g stroke="#1414ff" stroke-width="1.0" fill="none" stroke-opacity="1.0" stroke-linecap="butt"><line x1="1122.5" y1="464.0" x2="1072.5" y2="464.0"/><polyline points="1078.9,460.4 1072.5,464.0 1078.9,467.6"/></g>
<text transform="translate(1098,460.8) scale(1,1.15)" font-size="7.3" fill="#1414ff" stroke="#1414ff" stroke-width="0.22" text-anchor="middle" font-weight="normal" letter-spacing="0.12" xml:space="preserve">gene YGR<tspan font-size="7.0" letter-spacing="0.27">201</tspan>C</text>
<g stroke="#222" stroke-width="1.0" fill="none" stroke-opacity="1.0" stroke-linecap="butt"><line x1="1076" y1="495.2" x2="1143" y2="495.2"/><polyline points="1136.6,491.59999999999997 1143,495.2 1136.6,498.8"/></g>
<text transform="translate(1108.6,492.8) scale(1,1.15)" font-size="7.3" fill="#000" stroke="#000" stroke-width="0.22" text-anchor="middle" font-weight="normal" letter-spacing="0.3" xml:space="preserve">SUT SUT<tspan font-size="7.0" letter-spacing="0.44999999999999996">137</tspan></text>
<g stroke="#222" stroke-width="1.0" fill="none" stroke-opacity="1.0" stroke-linecap="butt"><line x1="705.5" y1="516.3" x2="719.2" y2="516.3"/><polyline points="712.8000000000001,512.6999999999999 719.2,516.3 712.8000000000001,519.9"/></g>
<text transform="translate(711.5,513.5) scale(1,1.15)" font-size="7.3" fill="#000" stroke="#000" stroke-width="0.22" text-anchor="middle" font-weight="normal" letter-spacing="0.3" xml:space="preserve">CUT CUT<tspan font-size="7.0" letter-spacing="0.44999999999999996">161</tspan></text>
<g stroke="#ff1414" stroke-width="1.0" fill="none" stroke-opacity="1.0" stroke-linecap="butt"><line x1="199.3" y1="536.9" x2="252.2" y2="536.9"/><polyline points="245.79999999999998,533.3 252.2,536.9 245.79999999999998,540.5"/></g>
<text transform="translate(225.9,534.9) scale(1,1.15)" font-size="7.3" fill="#ff1414" stroke="#ff1414" stroke-width="0.22" text-anchor="middle" font-weight="normal" letter-spacing="0.3" xml:space="preserve">XUT <tspan font-size="7.0" letter-spacing="0.44999999999999996">7</tspan>F-<tspan font-size="7.0" letter-spacing="0.44999999999999996">406</tspan></text>
<g stroke="#ff1414" stroke-width="1.0" fill="none" stroke-opacity="1.0" stroke-linecap="butt"><line x1="459" y1="536.9" x2="491.6" y2="536.9"/><polyline points="485.20000000000005,533.3 491.6,536.9 485.20000000000005,540.5"/></g>
<text transform="translate(474.6,534.9) scale(1,1.15)" font-size="7.3" fill="#ff1414" stroke="#ff1414" stroke-width="0.22" text-anchor="middle" font-weight="normal" letter-spacing="0.3" xml:space="preserve">XUT <tspan font-size="7.0" letter-spacing="0.44999999999999996">7</tspan>F-<tspan font-size="7.0" letter-spacing="0.44999999999999996">409</tspan></text>
<g stroke="#ff1414" stroke-width="1.0" fill="none" stroke-opacity="1.0" stroke-linecap="butt"><line x1="881.7" y1="547.5" x2="737" y2="547.5"/><polyline points="743.4,543.9 737,547.5 743.4,551.1"/></g>
<text transform="translate(809.2,544.6) scale(1,1.15)" font-size="7.3" fill="#ff1414" stroke="#ff1414" stroke-width="0.22" text-anchor="middle" font-weight="normal" letter-spacing="0.3" xml:space="preserve">XUT <tspan font-size="7.0" letter-spacing="0.44999999999999996">7</tspan>R-<tspan font-size="7.0" letter-spacing="0.44999999999999996">411</tspan></text>
<g stroke="#ff1414" stroke-width="1.0" fill="none" stroke-opacity="1.0" stroke-linecap="butt"><line x1="885" y1="537" x2="905" y2="537"/><polyline points="898.6,533.4 905,537 898.6,540.6"/></g>
<text transform="translate(895,534.8) scale(1,1.15)" font-size="7.3" fill="#ff1414" stroke="#ff1414" stroke-width="0.22" text-anchor="middle" font-weight="normal" letter-spacing="0.3" xml:space="preserve">XUT <tspan font-size="7.0" letter-spacing="0.44999999999999996">7</tspan>F-<tspan font-size="7.0" letter-spacing="0.44999999999999996">413</tspan></text>
<g stroke="#ff1414" stroke-width="1.0" fill="none" stroke-opacity="1.0" stroke-linecap="butt"><line x1="1051" y1="536.8" x2="1145" y2="536.8"/><polyline points="1138.6,533.1999999999999 1145,536.8 1138.6,540.4"/></g>
<text transform="translate(1098,534.9) scale(1,1.15)" font-size="7.3" fill="#ff1414" stroke="#ff1414" stroke-width="0.22" text-anchor="middle" font-weight="normal" letter-spacing="0.3" xml:space="preserve">XUT <tspan font-size="7.0" letter-spacing="0.44999999999999996">7</tspan>F-<tspan font-size="7.0" letter-spacing="0.44999999999999996">414</tspan></text>
<text transform="translate(610,623) scale(1,1.075)" font-size="9.2" fill="#000" text-anchor="middle" font-weight="bold" letter-spacing="0.38">Legend</text>
<g stroke="#1414ff" stroke-width="1.0" fill="none" stroke-opacity="1.0" stroke-linecap="butt"><line x1="477" y1="664" x2="742" y2="664"/><polyline points="735.6,660.4 742,664 735.6,667.6"/></g>
<text transform="translate(610,655) scale(1,1.15)" font-size="7.3" fill="#1414ff" stroke="#1414ff" stroke-width="0.22" text-anchor="middle" font-weight="normal" letter-spacing="0">genes</text>
<g stroke="#ff1414" stroke-width="1.0" fill="none" stroke-opacity="1.0" stroke-linecap="butt"><line x1="477" y1="705.5" x2="742" y2="705.5"/><polyline points="735.6,701.9 742,705.5 735.6,709.1"/></g>
<text transform="translate(610,697.6) scale(1,1.15)" font-size="7.3" fill="#ff1414" stroke="#ff1414" stroke-width="0.22" text-anchor="middle" font-weight="normal" letter-spacing="0.45">XUTs</text>
<g stroke="#222" stroke-width="1.0" fill="none" stroke-opacity="1.0" stroke-linecap="butt"><line x1="477" y1="747.5" x2="742" y2="747.5"/><polyline points="735.6,743.9 742,747.5 735.6,751.1"/></g>
<text transform="translate(610,739.6) scale(1,1.15)" font-size="7.3" fill="#000" stroke="#000" stroke-width="0.22" text-anchor="middle" font-weight="normal" letter-spacing="0">other</text>
</svg>
</body></html>
